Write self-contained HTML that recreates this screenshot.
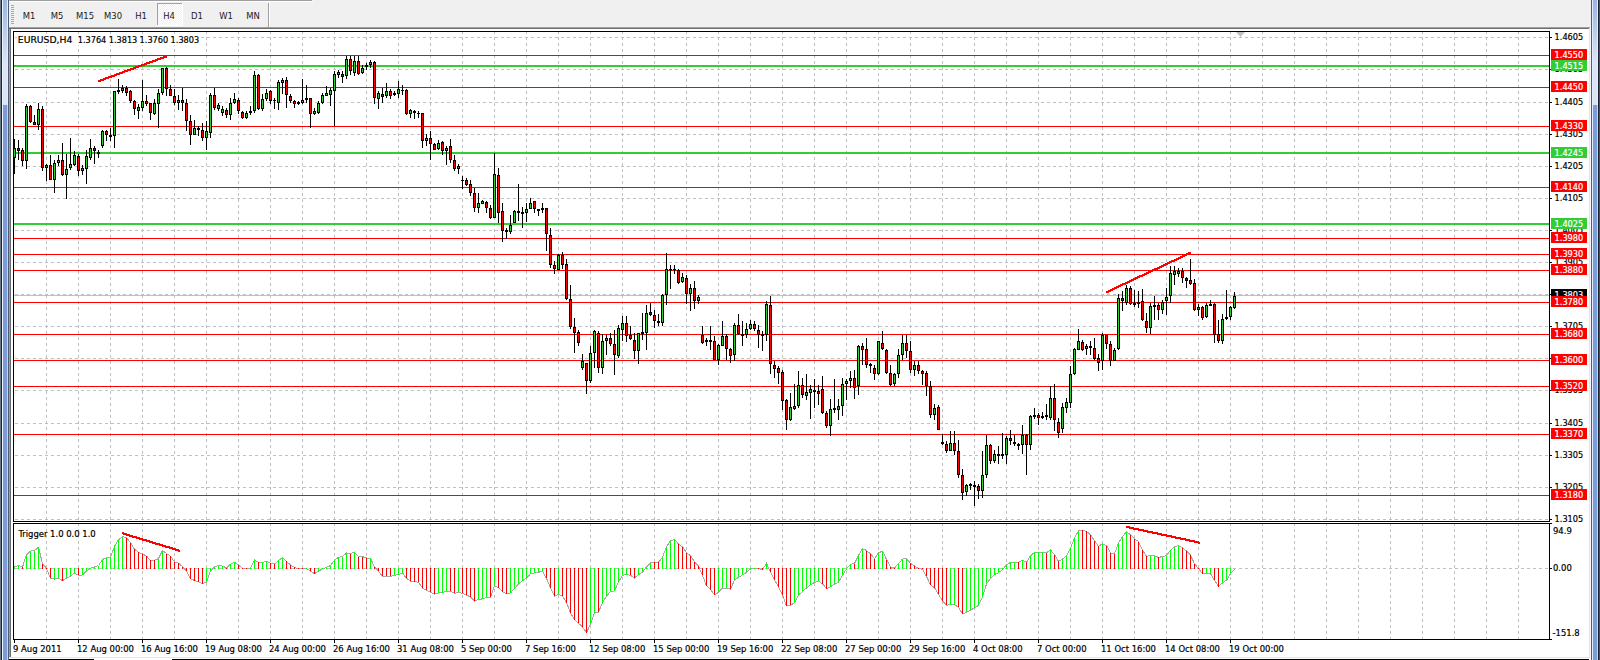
<!DOCTYPE html>
<html><head><meta charset="utf-8"><title>EURUSD,H4</title>
<style>
html,body{margin:0;padding:0;background:#fff;width:1600px;height:660px;overflow:hidden}
svg{display:block}
text{font-family:'DejaVu Sans Condensed', 'DejaVu Sans', sans-serif;white-space:pre}
</style></head><body>
<svg width="1600" height="660" viewBox="0 0 1600 660" shape-rendering="crispEdges">
<defs>
<linearGradient id="gradTop" x1="0" y1="0" x2="0" y2="1"><stop offset="0" stop-color="#9cb4e0"/><stop offset="0.6" stop-color="#dce4f4"/><stop offset="1" stop-color="#dce4f4"/></linearGradient>
<pattern id="dith" width="2" height="2" patternUnits="userSpaceOnUse"><rect width="2" height="2" fill="#f0f0f0"/><rect width="1" height="1" fill="#ffffff"/><rect x="1" y="1" width="1" height="1" fill="#ffffff"/></pattern>
</defs>
<rect x="0" y="0" width="1600" height="660" fill="#ffffff"/>
<rect x="0" y="0" width="1" height="660" fill="#6a7886"/>
<rect x="1" y="0" width="1" height="660" fill="#1c2434"/>
<rect x="2" y="0" width="1" height="660" fill="#eef4ff"/>
<rect x="3" y="0" width="4" height="105" fill="url(#gradTop)"/>
<rect x="3" y="105" width="4" height="555" fill="#7c9cd8"/>
<rect x="7" y="0" width="1" height="105" fill="#e6eefc"/>
<rect x="7" y="105" width="1" height="555" fill="#c4d6f4"/>
<rect x="8" y="0" width="1" height="660" fill="#4c5c7c"/>
<rect x="1589" y="27" width="1" height="631" fill="#e4e4e4"/>
<rect x="1590" y="27" width="1" height="633" fill="#f8f8f8"/>
<rect x="1591" y="0" width="1" height="660" fill="#4c5c7c"/>
<rect x="1592" y="0" width="1" height="660" fill="#e0ecff"/>
<rect x="1593" y="0" width="4" height="105" fill="url(#gradTop)"/>
<rect x="1593" y="105" width="4" height="555" fill="#7c9cd8"/>
<rect x="1597" y="0" width="1" height="105" fill="#e6eefc"/>
<rect x="1597" y="105" width="1" height="555" fill="#c4d6f4"/>
<rect x="1598" y="0" width="1" height="660" fill="#1c2434"/>
<rect x="1599" y="0" width="1" height="660" fill="#505050"/>
<rect x="9" y="0" width="1582" height="27" fill="#f0f0f0"/>
<rect x="9" y="0" width="303" height="1" fill="#a0a0a0"/>
<rect x="9" y="1" width="304" height="1" fill="#ffffff"/>
<rect x="9" y="27" width="1581" height="1" fill="#a0a0a0"/>
<rect x="9" y="28" width="1580" height="1" fill="#6e6e6e"/>
<rect x="11" y="5" width="3" height="1" fill="#a8a8a8"/>
<rect x="11" y="7" width="3" height="1" fill="#a8a8a8"/>
<rect x="11" y="9" width="3" height="1" fill="#a8a8a8"/>
<rect x="11" y="11" width="3" height="1" fill="#a8a8a8"/>
<rect x="11" y="13" width="3" height="1" fill="#a8a8a8"/>
<rect x="11" y="15" width="3" height="1" fill="#a8a8a8"/>
<rect x="11" y="17" width="3" height="1" fill="#a8a8a8"/>
<rect x="11" y="19" width="3" height="1" fill="#a8a8a8"/>
<rect x="11" y="21" width="3" height="1" fill="#a8a8a8"/>
<rect x="11" y="23" width="3" height="1" fill="#a8a8a8"/>
<rect x="268" y="3" width="1" height="24" fill="#a0a0a0"/>
<rect x="269" y="3" width="1" height="24" fill="#ffffff"/>
<rect x="157" y="3" width="25" height="22" fill="url(#dith)"/>
<rect x="157" y="3" width="25" height="1" fill="#a0a0a0"/>
<rect x="157" y="3" width="1" height="22" fill="#a0a0a0"/>
<rect x="182" y="3" width="1" height="23" fill="#ffffff"/>
<rect x="157" y="25" width="26" height="1" fill="#ffffff"/>
<text x="29" y="19" font-size="9.4" fill="#1a1a1a" stroke="#1a1a1a" stroke-width="0" text-anchor="middle">M1</text>
<text x="57" y="19" font-size="9.4" fill="#1a1a1a" stroke="#1a1a1a" stroke-width="0" text-anchor="middle">M5</text>
<text x="85" y="19" font-size="9.4" fill="#1a1a1a" stroke="#1a1a1a" stroke-width="0" text-anchor="middle">M15</text>
<text x="113" y="19" font-size="9.4" fill="#1a1a1a" stroke="#1a1a1a" stroke-width="0" text-anchor="middle">M30</text>
<text x="141" y="19" font-size="9.4" fill="#1a1a1a" stroke="#1a1a1a" stroke-width="0" text-anchor="middle">H1</text>
<text x="169" y="19" font-size="9.4" fill="#1a1a1a" stroke="#1a1a1a" stroke-width="0" text-anchor="middle">H4</text>
<text x="197" y="19" font-size="9.4" fill="#1a1a1a" stroke="#1a1a1a" stroke-width="0" text-anchor="middle">D1</text>
<text x="226" y="19" font-size="9.4" fill="#1a1a1a" stroke="#1a1a1a" stroke-width="0" text-anchor="middle">W1</text>
<text x="253" y="19" font-size="9.4" fill="#1a1a1a" stroke="#1a1a1a" stroke-width="0" text-anchor="middle">MN</text>
<rect x="9" y="29" width="1" height="628" fill="#9c9c9c"/>
<rect x="10" y="29" width="1" height="628" fill="#6c6c6c"/>
<rect x="9" y="657" width="1580" height="1" fill="#e4e4e4"/>
<rect x="9" y="659" width="85" height="1" fill="#000000"/>
<rect x="172" y="659" width="1417" height="1" fill="#000000"/>
<line x1="15" y1="37.5" x2="1549" y2="37.5" stroke="#c0c0c0" stroke-width="1" stroke-dasharray="3 3"/>
<line x1="15" y1="69.5" x2="1549" y2="69.5" stroke="#c0c0c0" stroke-width="1" stroke-dasharray="3 3"/>
<line x1="15" y1="102.5" x2="1549" y2="102.5" stroke="#c0c0c0" stroke-width="1" stroke-dasharray="3 3"/>
<line x1="15" y1="134.5" x2="1549" y2="134.5" stroke="#c0c0c0" stroke-width="1" stroke-dasharray="3 3"/>
<line x1="15" y1="166.5" x2="1549" y2="166.5" stroke="#c0c0c0" stroke-width="1" stroke-dasharray="3 3"/>
<line x1="15" y1="198.5" x2="1549" y2="198.5" stroke="#c0c0c0" stroke-width="1" stroke-dasharray="3 3"/>
<line x1="15" y1="230.5" x2="1549" y2="230.5" stroke="#c0c0c0" stroke-width="1" stroke-dasharray="3 3"/>
<line x1="15" y1="262.5" x2="1549" y2="262.5" stroke="#c0c0c0" stroke-width="1" stroke-dasharray="3 3"/>
<line x1="15" y1="294.5" x2="1549" y2="294.5" stroke="#c0c0c0" stroke-width="1" stroke-dasharray="3 3"/>
<line x1="15" y1="326.5" x2="1549" y2="326.5" stroke="#c0c0c0" stroke-width="1" stroke-dasharray="3 3"/>
<line x1="15" y1="358.5" x2="1549" y2="358.5" stroke="#c0c0c0" stroke-width="1" stroke-dasharray="3 3"/>
<line x1="15" y1="390.5" x2="1549" y2="390.5" stroke="#c0c0c0" stroke-width="1" stroke-dasharray="3 3"/>
<line x1="15" y1="423.5" x2="1549" y2="423.5" stroke="#c0c0c0" stroke-width="1" stroke-dasharray="3 3"/>
<line x1="15" y1="455.5" x2="1549" y2="455.5" stroke="#c0c0c0" stroke-width="1" stroke-dasharray="3 3"/>
<line x1="15" y1="487.5" x2="1549" y2="487.5" stroke="#c0c0c0" stroke-width="1" stroke-dasharray="3 3"/>
<line x1="15" y1="519.5" x2="1549" y2="519.5" stroke="#c0c0c0" stroke-width="1" stroke-dasharray="3 3"/>
<line x1="46.5" y1="31" x2="46.5" y2="521" stroke="#c0c0c0" stroke-width="1" stroke-dasharray="3 3"/>
<line x1="46.5" y1="523" x2="46.5" y2="639" stroke="#c0c0c0" stroke-width="1" stroke-dasharray="3 3"/>
<line x1="78.5" y1="31" x2="78.5" y2="521" stroke="#c0c0c0" stroke-width="1" stroke-dasharray="3 3"/>
<line x1="78.5" y1="523" x2="78.5" y2="639" stroke="#c0c0c0" stroke-width="1" stroke-dasharray="3 3"/>
<line x1="110.5" y1="31" x2="110.5" y2="521" stroke="#c0c0c0" stroke-width="1" stroke-dasharray="3 3"/>
<line x1="110.5" y1="523" x2="110.5" y2="639" stroke="#c0c0c0" stroke-width="1" stroke-dasharray="3 3"/>
<line x1="142.5" y1="31" x2="142.5" y2="521" stroke="#c0c0c0" stroke-width="1" stroke-dasharray="3 3"/>
<line x1="142.5" y1="523" x2="142.5" y2="639" stroke="#c0c0c0" stroke-width="1" stroke-dasharray="3 3"/>
<line x1="174.5" y1="31" x2="174.5" y2="521" stroke="#c0c0c0" stroke-width="1" stroke-dasharray="3 3"/>
<line x1="174.5" y1="523" x2="174.5" y2="639" stroke="#c0c0c0" stroke-width="1" stroke-dasharray="3 3"/>
<line x1="206.5" y1="31" x2="206.5" y2="521" stroke="#c0c0c0" stroke-width="1" stroke-dasharray="3 3"/>
<line x1="206.5" y1="523" x2="206.5" y2="639" stroke="#c0c0c0" stroke-width="1" stroke-dasharray="3 3"/>
<line x1="238.5" y1="31" x2="238.5" y2="521" stroke="#c0c0c0" stroke-width="1" stroke-dasharray="3 3"/>
<line x1="238.5" y1="523" x2="238.5" y2="639" stroke="#c0c0c0" stroke-width="1" stroke-dasharray="3 3"/>
<line x1="270.5" y1="31" x2="270.5" y2="521" stroke="#c0c0c0" stroke-width="1" stroke-dasharray="3 3"/>
<line x1="270.5" y1="523" x2="270.5" y2="639" stroke="#c0c0c0" stroke-width="1" stroke-dasharray="3 3"/>
<line x1="302.5" y1="31" x2="302.5" y2="521" stroke="#c0c0c0" stroke-width="1" stroke-dasharray="3 3"/>
<line x1="302.5" y1="523" x2="302.5" y2="639" stroke="#c0c0c0" stroke-width="1" stroke-dasharray="3 3"/>
<line x1="334.5" y1="31" x2="334.5" y2="521" stroke="#c0c0c0" stroke-width="1" stroke-dasharray="3 3"/>
<line x1="334.5" y1="523" x2="334.5" y2="639" stroke="#c0c0c0" stroke-width="1" stroke-dasharray="3 3"/>
<line x1="366.5" y1="31" x2="366.5" y2="521" stroke="#c0c0c0" stroke-width="1" stroke-dasharray="3 3"/>
<line x1="366.5" y1="523" x2="366.5" y2="639" stroke="#c0c0c0" stroke-width="1" stroke-dasharray="3 3"/>
<line x1="398.5" y1="31" x2="398.5" y2="521" stroke="#c0c0c0" stroke-width="1" stroke-dasharray="3 3"/>
<line x1="398.5" y1="523" x2="398.5" y2="639" stroke="#c0c0c0" stroke-width="1" stroke-dasharray="3 3"/>
<line x1="430.5" y1="31" x2="430.5" y2="521" stroke="#c0c0c0" stroke-width="1" stroke-dasharray="3 3"/>
<line x1="430.5" y1="523" x2="430.5" y2="639" stroke="#c0c0c0" stroke-width="1" stroke-dasharray="3 3"/>
<line x1="462.5" y1="31" x2="462.5" y2="521" stroke="#c0c0c0" stroke-width="1" stroke-dasharray="3 3"/>
<line x1="462.5" y1="523" x2="462.5" y2="639" stroke="#c0c0c0" stroke-width="1" stroke-dasharray="3 3"/>
<line x1="494.5" y1="31" x2="494.5" y2="521" stroke="#c0c0c0" stroke-width="1" stroke-dasharray="3 3"/>
<line x1="494.5" y1="523" x2="494.5" y2="639" stroke="#c0c0c0" stroke-width="1" stroke-dasharray="3 3"/>
<line x1="526.5" y1="31" x2="526.5" y2="521" stroke="#c0c0c0" stroke-width="1" stroke-dasharray="3 3"/>
<line x1="526.5" y1="523" x2="526.5" y2="639" stroke="#c0c0c0" stroke-width="1" stroke-dasharray="3 3"/>
<line x1="558.5" y1="31" x2="558.5" y2="521" stroke="#c0c0c0" stroke-width="1" stroke-dasharray="3 3"/>
<line x1="558.5" y1="523" x2="558.5" y2="639" stroke="#c0c0c0" stroke-width="1" stroke-dasharray="3 3"/>
<line x1="590.5" y1="31" x2="590.5" y2="521" stroke="#c0c0c0" stroke-width="1" stroke-dasharray="3 3"/>
<line x1="590.5" y1="523" x2="590.5" y2="639" stroke="#c0c0c0" stroke-width="1" stroke-dasharray="3 3"/>
<line x1="622.5" y1="31" x2="622.5" y2="521" stroke="#c0c0c0" stroke-width="1" stroke-dasharray="3 3"/>
<line x1="622.5" y1="523" x2="622.5" y2="639" stroke="#c0c0c0" stroke-width="1" stroke-dasharray="3 3"/>
<line x1="654.5" y1="31" x2="654.5" y2="521" stroke="#c0c0c0" stroke-width="1" stroke-dasharray="3 3"/>
<line x1="654.5" y1="523" x2="654.5" y2="639" stroke="#c0c0c0" stroke-width="1" stroke-dasharray="3 3"/>
<line x1="686.5" y1="31" x2="686.5" y2="521" stroke="#c0c0c0" stroke-width="1" stroke-dasharray="3 3"/>
<line x1="686.5" y1="523" x2="686.5" y2="639" stroke="#c0c0c0" stroke-width="1" stroke-dasharray="3 3"/>
<line x1="718.5" y1="31" x2="718.5" y2="521" stroke="#c0c0c0" stroke-width="1" stroke-dasharray="3 3"/>
<line x1="718.5" y1="523" x2="718.5" y2="639" stroke="#c0c0c0" stroke-width="1" stroke-dasharray="3 3"/>
<line x1="750.5" y1="31" x2="750.5" y2="521" stroke="#c0c0c0" stroke-width="1" stroke-dasharray="3 3"/>
<line x1="750.5" y1="523" x2="750.5" y2="639" stroke="#c0c0c0" stroke-width="1" stroke-dasharray="3 3"/>
<line x1="782.5" y1="31" x2="782.5" y2="521" stroke="#c0c0c0" stroke-width="1" stroke-dasharray="3 3"/>
<line x1="782.5" y1="523" x2="782.5" y2="639" stroke="#c0c0c0" stroke-width="1" stroke-dasharray="3 3"/>
<line x1="814.5" y1="31" x2="814.5" y2="521" stroke="#c0c0c0" stroke-width="1" stroke-dasharray="3 3"/>
<line x1="814.5" y1="523" x2="814.5" y2="639" stroke="#c0c0c0" stroke-width="1" stroke-dasharray="3 3"/>
<line x1="846.5" y1="31" x2="846.5" y2="521" stroke="#c0c0c0" stroke-width="1" stroke-dasharray="3 3"/>
<line x1="846.5" y1="523" x2="846.5" y2="639" stroke="#c0c0c0" stroke-width="1" stroke-dasharray="3 3"/>
<line x1="878.5" y1="31" x2="878.5" y2="521" stroke="#c0c0c0" stroke-width="1" stroke-dasharray="3 3"/>
<line x1="878.5" y1="523" x2="878.5" y2="639" stroke="#c0c0c0" stroke-width="1" stroke-dasharray="3 3"/>
<line x1="910.5" y1="31" x2="910.5" y2="521" stroke="#c0c0c0" stroke-width="1" stroke-dasharray="3 3"/>
<line x1="910.5" y1="523" x2="910.5" y2="639" stroke="#c0c0c0" stroke-width="1" stroke-dasharray="3 3"/>
<line x1="942.5" y1="31" x2="942.5" y2="521" stroke="#c0c0c0" stroke-width="1" stroke-dasharray="3 3"/>
<line x1="942.5" y1="523" x2="942.5" y2="639" stroke="#c0c0c0" stroke-width="1" stroke-dasharray="3 3"/>
<line x1="974.5" y1="31" x2="974.5" y2="521" stroke="#c0c0c0" stroke-width="1" stroke-dasharray="3 3"/>
<line x1="974.5" y1="523" x2="974.5" y2="639" stroke="#c0c0c0" stroke-width="1" stroke-dasharray="3 3"/>
<line x1="1006.5" y1="31" x2="1006.5" y2="521" stroke="#c0c0c0" stroke-width="1" stroke-dasharray="3 3"/>
<line x1="1006.5" y1="523" x2="1006.5" y2="639" stroke="#c0c0c0" stroke-width="1" stroke-dasharray="3 3"/>
<line x1="1038.5" y1="31" x2="1038.5" y2="521" stroke="#c0c0c0" stroke-width="1" stroke-dasharray="3 3"/>
<line x1="1038.5" y1="523" x2="1038.5" y2="639" stroke="#c0c0c0" stroke-width="1" stroke-dasharray="3 3"/>
<line x1="1070.5" y1="31" x2="1070.5" y2="521" stroke="#c0c0c0" stroke-width="1" stroke-dasharray="3 3"/>
<line x1="1070.5" y1="523" x2="1070.5" y2="639" stroke="#c0c0c0" stroke-width="1" stroke-dasharray="3 3"/>
<line x1="1102.5" y1="31" x2="1102.5" y2="521" stroke="#c0c0c0" stroke-width="1" stroke-dasharray="3 3"/>
<line x1="1102.5" y1="523" x2="1102.5" y2="639" stroke="#c0c0c0" stroke-width="1" stroke-dasharray="3 3"/>
<line x1="1134.5" y1="31" x2="1134.5" y2="521" stroke="#c0c0c0" stroke-width="1" stroke-dasharray="3 3"/>
<line x1="1134.5" y1="523" x2="1134.5" y2="639" stroke="#c0c0c0" stroke-width="1" stroke-dasharray="3 3"/>
<line x1="1166.5" y1="31" x2="1166.5" y2="521" stroke="#c0c0c0" stroke-width="1" stroke-dasharray="3 3"/>
<line x1="1166.5" y1="523" x2="1166.5" y2="639" stroke="#c0c0c0" stroke-width="1" stroke-dasharray="3 3"/>
<line x1="1198.5" y1="31" x2="1198.5" y2="521" stroke="#c0c0c0" stroke-width="1" stroke-dasharray="3 3"/>
<line x1="1198.5" y1="523" x2="1198.5" y2="639" stroke="#c0c0c0" stroke-width="1" stroke-dasharray="3 3"/>
<line x1="1230.5" y1="31" x2="1230.5" y2="521" stroke="#c0c0c0" stroke-width="1" stroke-dasharray="3 3"/>
<line x1="1230.5" y1="523" x2="1230.5" y2="639" stroke="#c0c0c0" stroke-width="1" stroke-dasharray="3 3"/>
<line x1="1262.5" y1="31" x2="1262.5" y2="521" stroke="#c0c0c0" stroke-width="1" stroke-dasharray="3 3"/>
<line x1="1262.5" y1="523" x2="1262.5" y2="639" stroke="#c0c0c0" stroke-width="1" stroke-dasharray="3 3"/>
<line x1="1294.5" y1="31" x2="1294.5" y2="521" stroke="#c0c0c0" stroke-width="1" stroke-dasharray="3 3"/>
<line x1="1294.5" y1="523" x2="1294.5" y2="639" stroke="#c0c0c0" stroke-width="1" stroke-dasharray="3 3"/>
<line x1="1326.5" y1="31" x2="1326.5" y2="521" stroke="#c0c0c0" stroke-width="1" stroke-dasharray="3 3"/>
<line x1="1326.5" y1="523" x2="1326.5" y2="639" stroke="#c0c0c0" stroke-width="1" stroke-dasharray="3 3"/>
<line x1="1358.5" y1="31" x2="1358.5" y2="521" stroke="#c0c0c0" stroke-width="1" stroke-dasharray="3 3"/>
<line x1="1358.5" y1="523" x2="1358.5" y2="639" stroke="#c0c0c0" stroke-width="1" stroke-dasharray="3 3"/>
<line x1="1390.5" y1="31" x2="1390.5" y2="521" stroke="#c0c0c0" stroke-width="1" stroke-dasharray="3 3"/>
<line x1="1390.5" y1="523" x2="1390.5" y2="639" stroke="#c0c0c0" stroke-width="1" stroke-dasharray="3 3"/>
<line x1="1422.5" y1="31" x2="1422.5" y2="521" stroke="#c0c0c0" stroke-width="1" stroke-dasharray="3 3"/>
<line x1="1422.5" y1="523" x2="1422.5" y2="639" stroke="#c0c0c0" stroke-width="1" stroke-dasharray="3 3"/>
<line x1="1454.5" y1="31" x2="1454.5" y2="521" stroke="#c0c0c0" stroke-width="1" stroke-dasharray="3 3"/>
<line x1="1454.5" y1="523" x2="1454.5" y2="639" stroke="#c0c0c0" stroke-width="1" stroke-dasharray="3 3"/>
<line x1="1486.5" y1="31" x2="1486.5" y2="521" stroke="#c0c0c0" stroke-width="1" stroke-dasharray="3 3"/>
<line x1="1486.5" y1="523" x2="1486.5" y2="639" stroke="#c0c0c0" stroke-width="1" stroke-dasharray="3 3"/>
<line x1="1518.5" y1="31" x2="1518.5" y2="521" stroke="#c0c0c0" stroke-width="1" stroke-dasharray="3 3"/>
<line x1="1518.5" y1="523" x2="1518.5" y2="639" stroke="#c0c0c0" stroke-width="1" stroke-dasharray="3 3"/>
<rect x="14" y="295" width="1535" height="1" fill="#c0c0c0"/>
<rect x="14" y="55" width="1535" height="1" fill="#ff0000"/>
<rect x="14" y="65" width="1535" height="2" fill="#32cd32"/>
<rect x="14" y="87" width="1535" height="1" fill="#ff0000"/>
<rect x="14" y="126" width="1535" height="1" fill="#ff0000"/>
<rect x="14" y="152" width="1535" height="2" fill="#32cd32"/>
<rect x="14" y="187" width="1535" height="1" fill="#ff0000"/>
<rect x="14" y="223" width="1535" height="2" fill="#32cd32"/>
<rect x="14" y="238" width="1535" height="1" fill="#ff0000"/>
<rect x="14" y="254" width="1535" height="1" fill="#ff0000"/>
<rect x="14" y="270" width="1535" height="1" fill="#ff0000"/>
<rect x="14" y="302" width="1535" height="1" fill="#ff0000"/>
<rect x="14" y="334" width="1535" height="1" fill="#ff0000"/>
<rect x="14" y="360" width="1535" height="1" fill="#ff0000"/>
<rect x="14" y="386" width="1535" height="1" fill="#ff0000"/>
<rect x="14" y="434" width="1535" height="1" fill="#ff0000"/>
<rect x="14" y="495" width="1535" height="1" fill="#ff0000"/>
<rect x="14" y="139" width="1" height="35" fill="#000"/>
<rect x="13" y="148" width="3" height="10" fill="#000"/>
<rect x="14" y="149" width="1" height="8" fill="#32cd32"/>
<rect x="18" y="140" width="1" height="20" fill="#000"/>
<rect x="17" y="148" width="3" height="3" fill="#000"/>
<rect x="18" y="149" width="1" height="1" fill="#ff0000"/>
<rect x="22" y="148" width="1" height="18" fill="#000"/>
<rect x="21" y="150" width="3" height="11" fill="#000"/>
<rect x="22" y="151" width="1" height="9" fill="#ff0000"/>
<rect x="26" y="104" width="1" height="65" fill="#000"/>
<rect x="25" y="106" width="3" height="55" fill="#000"/>
<rect x="26" y="107" width="1" height="53" fill="#32cd32"/>
<rect x="30" y="105" width="1" height="18" fill="#000"/>
<rect x="29" y="106" width="3" height="16" fill="#000"/>
<rect x="30" y="107" width="1" height="14" fill="#ff0000"/>
<rect x="34" y="115" width="1" height="10" fill="#000"/>
<rect x="33" y="122" width="3" height="3" fill="#000"/>
<rect x="34" y="123" width="1" height="1" fill="#ff0000"/>
<rect x="38" y="103" width="1" height="27" fill="#000"/>
<rect x="37" y="109" width="3" height="16" fill="#000"/>
<rect x="38" y="110" width="1" height="14" fill="#32cd32"/>
<rect x="42" y="106" width="1" height="65" fill="#000"/>
<rect x="41" y="109" width="3" height="59" fill="#000"/>
<rect x="42" y="110" width="1" height="57" fill="#ff0000"/>
<rect x="46" y="164" width="1" height="17" fill="#000"/>
<rect x="45" y="165" width="3" height="3" fill="#000"/>
<rect x="46" y="166" width="1" height="1" fill="#32cd32"/>
<rect x="50" y="155" width="1" height="25" fill="#000"/>
<rect x="49" y="165" width="3" height="15" fill="#000"/>
<rect x="50" y="166" width="1" height="13" fill="#ff0000"/>
<rect x="54" y="160" width="1" height="33" fill="#000"/>
<rect x="53" y="163" width="3" height="17" fill="#000"/>
<rect x="54" y="164" width="1" height="15" fill="#32cd32"/>
<rect x="58" y="155" width="1" height="11" fill="#000"/>
<rect x="57" y="160" width="3" height="3" fill="#000"/>
<rect x="58" y="161" width="1" height="1" fill="#32cd32"/>
<rect x="62" y="143" width="1" height="33" fill="#000"/>
<rect x="61" y="160" width="3" height="15" fill="#000"/>
<rect x="62" y="161" width="1" height="13" fill="#ff0000"/>
<rect x="66" y="154" width="1" height="45" fill="#000"/>
<rect x="65" y="169" width="3" height="6" fill="#000"/>
<rect x="66" y="170" width="1" height="4" fill="#32cd32"/>
<rect x="70" y="138" width="1" height="32" fill="#000"/>
<rect x="69" y="164" width="3" height="4" fill="#000"/>
<rect x="70" y="165" width="1" height="2" fill="#32cd32"/>
<rect x="74" y="151" width="1" height="15" fill="#000"/>
<rect x="73" y="155" width="3" height="10" fill="#000"/>
<rect x="74" y="156" width="1" height="8" fill="#32cd32"/>
<rect x="78" y="154" width="1" height="22" fill="#000"/>
<rect x="77" y="156" width="3" height="15" fill="#000"/>
<rect x="78" y="157" width="1" height="13" fill="#ff0000"/>
<rect x="82" y="165" width="1" height="10" fill="#000"/>
<rect x="81" y="168" width="3" height="3" fill="#000"/>
<rect x="82" y="169" width="1" height="1" fill="#32cd32"/>
<rect x="86" y="150" width="1" height="34" fill="#000"/>
<rect x="85" y="156" width="3" height="13" fill="#000"/>
<rect x="86" y="157" width="1" height="11" fill="#32cd32"/>
<rect x="90" y="139" width="1" height="21" fill="#000"/>
<rect x="89" y="148" width="3" height="10" fill="#000"/>
<rect x="90" y="149" width="1" height="8" fill="#32cd32"/>
<rect x="94" y="146" width="1" height="18" fill="#000"/>
<rect x="93" y="148" width="3" height="3" fill="#000"/>
<rect x="94" y="149" width="1" height="1" fill="#ff0000"/>
<rect x="98" y="150" width="1" height="8" fill="#000"/>
<rect x="97" y="152" width="3" height="2" fill="#000"/>
<rect x="102" y="130" width="1" height="18" fill="#000"/>
<rect x="101" y="131" width="3" height="15" fill="#000"/>
<rect x="102" y="132" width="1" height="13" fill="#32cd32"/>
<rect x="106" y="130" width="1" height="11" fill="#000"/>
<rect x="105" y="131" width="3" height="4" fill="#000"/>
<rect x="106" y="132" width="1" height="2" fill="#ff0000"/>
<rect x="110" y="128" width="1" height="13" fill="#000"/>
<rect x="109" y="135" width="3" height="2" fill="#000"/>
<rect x="114" y="91" width="1" height="57" fill="#000"/>
<rect x="113" y="91" width="3" height="45" fill="#000"/>
<rect x="114" y="92" width="1" height="43" fill="#32cd32"/>
<rect x="118" y="79" width="1" height="15" fill="#000"/>
<rect x="117" y="90" width="3" height="2" fill="#000"/>
<rect x="122" y="85" width="1" height="8" fill="#000"/>
<rect x="121" y="88" width="3" height="3" fill="#000"/>
<rect x="122" y="89" width="1" height="1" fill="#32cd32"/>
<rect x="126" y="86" width="1" height="10" fill="#000"/>
<rect x="125" y="88" width="3" height="5" fill="#000"/>
<rect x="126" y="89" width="1" height="3" fill="#ff0000"/>
<rect x="130" y="90" width="1" height="13" fill="#000"/>
<rect x="129" y="91" width="3" height="10" fill="#000"/>
<rect x="130" y="92" width="1" height="8" fill="#ff0000"/>
<rect x="134" y="100" width="1" height="15" fill="#000"/>
<rect x="133" y="101" width="3" height="8" fill="#000"/>
<rect x="134" y="102" width="1" height="6" fill="#ff0000"/>
<rect x="138" y="104" width="1" height="15" fill="#000"/>
<rect x="137" y="107" width="3" height="4" fill="#000"/>
<rect x="138" y="108" width="1" height="2" fill="#32cd32"/>
<rect x="142" y="80" width="1" height="31" fill="#000"/>
<rect x="141" y="101" width="3" height="7" fill="#000"/>
<rect x="142" y="102" width="1" height="5" fill="#32cd32"/>
<rect x="146" y="95" width="1" height="11" fill="#000"/>
<rect x="145" y="101" width="3" height="3" fill="#000"/>
<rect x="146" y="102" width="1" height="1" fill="#ff0000"/>
<rect x="150" y="103" width="1" height="17" fill="#000"/>
<rect x="149" y="103" width="3" height="10" fill="#000"/>
<rect x="150" y="104" width="1" height="8" fill="#ff0000"/>
<rect x="154" y="99" width="1" height="16" fill="#000"/>
<rect x="153" y="103" width="3" height="11" fill="#000"/>
<rect x="154" y="104" width="1" height="9" fill="#32cd32"/>
<rect x="158" y="89" width="1" height="39" fill="#000"/>
<rect x="157" y="93" width="3" height="11" fill="#000"/>
<rect x="158" y="94" width="1" height="9" fill="#32cd32"/>
<rect x="162" y="68" width="1" height="27" fill="#000"/>
<rect x="161" y="68" width="3" height="25" fill="#000"/>
<rect x="162" y="69" width="1" height="23" fill="#32cd32"/>
<rect x="166" y="67" width="1" height="29" fill="#000"/>
<rect x="165" y="68" width="3" height="21" fill="#000"/>
<rect x="166" y="69" width="1" height="19" fill="#ff0000"/>
<rect x="170" y="85" width="1" height="11" fill="#000"/>
<rect x="169" y="89" width="3" height="7" fill="#000"/>
<rect x="170" y="90" width="1" height="5" fill="#ff0000"/>
<rect x="174" y="89" width="1" height="16" fill="#000"/>
<rect x="173" y="96" width="3" height="7" fill="#000"/>
<rect x="174" y="97" width="1" height="5" fill="#ff0000"/>
<rect x="178" y="95" width="1" height="15" fill="#000"/>
<rect x="177" y="100" width="3" height="3" fill="#000"/>
<rect x="178" y="101" width="1" height="1" fill="#32cd32"/>
<rect x="182" y="88" width="1" height="23" fill="#000"/>
<rect x="181" y="100" width="3" height="3" fill="#000"/>
<rect x="182" y="101" width="1" height="1" fill="#ff0000"/>
<rect x="186" y="99" width="1" height="32" fill="#000"/>
<rect x="185" y="103" width="3" height="18" fill="#000"/>
<rect x="186" y="104" width="1" height="16" fill="#ff0000"/>
<rect x="190" y="115" width="1" height="30" fill="#000"/>
<rect x="189" y="121" width="3" height="14" fill="#000"/>
<rect x="190" y="122" width="1" height="12" fill="#ff0000"/>
<rect x="194" y="120" width="1" height="15" fill="#000"/>
<rect x="193" y="128" width="3" height="7" fill="#000"/>
<rect x="194" y="129" width="1" height="5" fill="#32cd32"/>
<rect x="198" y="126" width="1" height="10" fill="#000"/>
<rect x="197" y="128" width="3" height="2" fill="#000"/>
<rect x="202" y="123" width="1" height="18" fill="#000"/>
<rect x="201" y="130" width="3" height="8" fill="#000"/>
<rect x="202" y="131" width="1" height="6" fill="#ff0000"/>
<rect x="206" y="121" width="1" height="29" fill="#000"/>
<rect x="205" y="131" width="3" height="7" fill="#000"/>
<rect x="206" y="132" width="1" height="5" fill="#32cd32"/>
<rect x="210" y="93" width="1" height="45" fill="#000"/>
<rect x="209" y="95" width="3" height="38" fill="#000"/>
<rect x="210" y="96" width="1" height="36" fill="#32cd32"/>
<rect x="214" y="88" width="1" height="22" fill="#000"/>
<rect x="213" y="95" width="3" height="13" fill="#000"/>
<rect x="214" y="96" width="1" height="11" fill="#ff0000"/>
<rect x="218" y="103" width="1" height="8" fill="#000"/>
<rect x="217" y="105" width="3" height="4" fill="#000"/>
<rect x="218" y="106" width="1" height="2" fill="#32cd32"/>
<rect x="222" y="106" width="1" height="10" fill="#000"/>
<rect x="221" y="109" width="3" height="4" fill="#000"/>
<rect x="222" y="110" width="1" height="2" fill="#32cd32"/>
<rect x="226" y="108" width="1" height="10" fill="#000"/>
<rect x="225" y="110" width="3" height="5" fill="#000"/>
<rect x="226" y="111" width="1" height="3" fill="#ff0000"/>
<rect x="230" y="98" width="1" height="22" fill="#000"/>
<rect x="229" y="103" width="3" height="12" fill="#000"/>
<rect x="230" y="104" width="1" height="10" fill="#32cd32"/>
<rect x="234" y="93" width="1" height="11" fill="#000"/>
<rect x="233" y="99" width="3" height="4" fill="#000"/>
<rect x="234" y="100" width="1" height="2" fill="#32cd32"/>
<rect x="238" y="98" width="1" height="16" fill="#000"/>
<rect x="237" y="100" width="3" height="11" fill="#000"/>
<rect x="238" y="101" width="1" height="9" fill="#ff0000"/>
<rect x="242" y="111" width="1" height="8" fill="#000"/>
<rect x="241" y="112" width="3" height="6" fill="#000"/>
<rect x="242" y="113" width="1" height="4" fill="#ff0000"/>
<rect x="246" y="111" width="1" height="8" fill="#000"/>
<rect x="245" y="113" width="3" height="5" fill="#000"/>
<rect x="246" y="114" width="1" height="3" fill="#32cd32"/>
<rect x="250" y="106" width="1" height="9" fill="#000"/>
<rect x="249" y="111" width="3" height="2" fill="#000"/>
<rect x="254" y="71" width="1" height="42" fill="#000"/>
<rect x="253" y="75" width="3" height="36" fill="#000"/>
<rect x="254" y="76" width="1" height="34" fill="#32cd32"/>
<rect x="258" y="74" width="1" height="36" fill="#000"/>
<rect x="257" y="75" width="3" height="34" fill="#000"/>
<rect x="258" y="76" width="1" height="32" fill="#ff0000"/>
<rect x="262" y="94" width="1" height="17" fill="#000"/>
<rect x="261" y="99" width="3" height="10" fill="#000"/>
<rect x="262" y="100" width="1" height="8" fill="#32cd32"/>
<rect x="266" y="89" width="1" height="12" fill="#000"/>
<rect x="265" y="93" width="3" height="6" fill="#000"/>
<rect x="266" y="94" width="1" height="4" fill="#32cd32"/>
<rect x="270" y="90" width="1" height="14" fill="#000"/>
<rect x="269" y="91" width="3" height="10" fill="#000"/>
<rect x="270" y="92" width="1" height="8" fill="#ff0000"/>
<rect x="274" y="98" width="1" height="11" fill="#000"/>
<rect x="273" y="100" width="3" height="1" fill="#000"/>
<rect x="278" y="80" width="1" height="30" fill="#000"/>
<rect x="277" y="82" width="3" height="21" fill="#000"/>
<rect x="278" y="83" width="1" height="19" fill="#32cd32"/>
<rect x="282" y="78" width="1" height="16" fill="#000"/>
<rect x="281" y="80" width="3" height="3" fill="#000"/>
<rect x="282" y="81" width="1" height="1" fill="#32cd32"/>
<rect x="286" y="77" width="1" height="31" fill="#000"/>
<rect x="285" y="80" width="3" height="15" fill="#000"/>
<rect x="286" y="81" width="1" height="13" fill="#ff0000"/>
<rect x="290" y="94" width="1" height="9" fill="#000"/>
<rect x="289" y="96" width="3" height="5" fill="#000"/>
<rect x="290" y="97" width="1" height="3" fill="#ff0000"/>
<rect x="294" y="100" width="1" height="8" fill="#000"/>
<rect x="293" y="101" width="3" height="3" fill="#000"/>
<rect x="294" y="102" width="1" height="1" fill="#ff0000"/>
<rect x="298" y="101" width="1" height="4" fill="#000"/>
<rect x="297" y="102" width="3" height="2" fill="#000"/>
<rect x="302" y="79" width="1" height="25" fill="#000"/>
<rect x="301" y="100" width="3" height="3" fill="#000"/>
<rect x="302" y="101" width="1" height="1" fill="#32cd32"/>
<rect x="306" y="85" width="1" height="18" fill="#000"/>
<rect x="305" y="98" width="3" height="2" fill="#000"/>
<rect x="310" y="98" width="1" height="30" fill="#000"/>
<rect x="309" y="98" width="3" height="16" fill="#000"/>
<rect x="310" y="99" width="1" height="14" fill="#ff0000"/>
<rect x="314" y="108" width="1" height="7" fill="#000"/>
<rect x="313" y="111" width="3" height="3" fill="#000"/>
<rect x="314" y="112" width="1" height="1" fill="#32cd32"/>
<rect x="318" y="101" width="1" height="13" fill="#000"/>
<rect x="317" y="103" width="3" height="10" fill="#000"/>
<rect x="318" y="104" width="1" height="8" fill="#32cd32"/>
<rect x="322" y="93" width="1" height="11" fill="#000"/>
<rect x="321" y="95" width="3" height="8" fill="#000"/>
<rect x="322" y="96" width="1" height="6" fill="#32cd32"/>
<rect x="326" y="86" width="1" height="10" fill="#000"/>
<rect x="325" y="93" width="3" height="3" fill="#000"/>
<rect x="326" y="94" width="1" height="1" fill="#32cd32"/>
<rect x="330" y="88" width="1" height="18" fill="#000"/>
<rect x="329" y="90" width="3" height="5" fill="#000"/>
<rect x="330" y="91" width="1" height="3" fill="#32cd32"/>
<rect x="334" y="71" width="1" height="55" fill="#000"/>
<rect x="333" y="74" width="3" height="17" fill="#000"/>
<rect x="334" y="75" width="1" height="15" fill="#32cd32"/>
<rect x="338" y="70" width="1" height="8" fill="#000"/>
<rect x="337" y="72" width="3" height="3" fill="#000"/>
<rect x="338" y="73" width="1" height="1" fill="#32cd32"/>
<rect x="342" y="71" width="1" height="12" fill="#000"/>
<rect x="341" y="74" width="3" height="3" fill="#000"/>
<rect x="342" y="75" width="1" height="1" fill="#ff0000"/>
<rect x="346" y="56" width="1" height="23" fill="#000"/>
<rect x="345" y="59" width="3" height="17" fill="#000"/>
<rect x="346" y="60" width="1" height="15" fill="#32cd32"/>
<rect x="350" y="56" width="1" height="19" fill="#000"/>
<rect x="349" y="59" width="3" height="12" fill="#000"/>
<rect x="350" y="60" width="1" height="10" fill="#ff0000"/>
<rect x="354" y="56" width="1" height="20" fill="#000"/>
<rect x="353" y="61" width="3" height="12" fill="#000"/>
<rect x="354" y="62" width="1" height="10" fill="#32cd32"/>
<rect x="358" y="56" width="1" height="19" fill="#000"/>
<rect x="357" y="61" width="3" height="13" fill="#000"/>
<rect x="358" y="62" width="1" height="11" fill="#ff0000"/>
<rect x="362" y="65" width="1" height="9" fill="#000"/>
<rect x="361" y="68" width="3" height="5" fill="#000"/>
<rect x="362" y="69" width="1" height="3" fill="#32cd32"/>
<rect x="366" y="63" width="1" height="7" fill="#000"/>
<rect x="365" y="65" width="3" height="2" fill="#000"/>
<rect x="370" y="60" width="1" height="8" fill="#000"/>
<rect x="369" y="62" width="3" height="3" fill="#000"/>
<rect x="370" y="63" width="1" height="1" fill="#32cd32"/>
<rect x="374" y="61" width="1" height="43" fill="#000"/>
<rect x="373" y="62" width="3" height="36" fill="#000"/>
<rect x="374" y="63" width="1" height="34" fill="#ff0000"/>
<rect x="378" y="91" width="1" height="18" fill="#000"/>
<rect x="377" y="93" width="3" height="6" fill="#000"/>
<rect x="378" y="94" width="1" height="4" fill="#32cd32"/>
<rect x="382" y="88" width="1" height="15" fill="#000"/>
<rect x="381" y="94" width="3" height="3" fill="#000"/>
<rect x="382" y="95" width="1" height="1" fill="#ff0000"/>
<rect x="386" y="83" width="1" height="15" fill="#000"/>
<rect x="385" y="91" width="3" height="5" fill="#000"/>
<rect x="386" y="92" width="1" height="3" fill="#32cd32"/>
<rect x="390" y="89" width="1" height="10" fill="#000"/>
<rect x="389" y="91" width="3" height="5" fill="#000"/>
<rect x="390" y="92" width="1" height="3" fill="#ff0000"/>
<rect x="394" y="91" width="1" height="5" fill="#000"/>
<rect x="393" y="93" width="3" height="2" fill="#000"/>
<rect x="398" y="81" width="1" height="17" fill="#000"/>
<rect x="397" y="89" width="3" height="5" fill="#000"/>
<rect x="398" y="90" width="1" height="3" fill="#32cd32"/>
<rect x="402" y="85" width="1" height="10" fill="#000"/>
<rect x="401" y="90" width="3" height="1" fill="#000"/>
<rect x="406" y="89" width="1" height="26" fill="#000"/>
<rect x="405" y="90" width="3" height="24" fill="#000"/>
<rect x="406" y="91" width="1" height="22" fill="#ff0000"/>
<rect x="410" y="109" width="1" height="9" fill="#000"/>
<rect x="409" y="110" width="3" height="4" fill="#000"/>
<rect x="410" y="111" width="1" height="2" fill="#32cd32"/>
<rect x="414" y="110" width="1" height="9" fill="#000"/>
<rect x="413" y="111" width="3" height="2" fill="#000"/>
<rect x="418" y="111" width="1" height="7" fill="#000"/>
<rect x="417" y="113" width="3" height="1" fill="#000"/>
<rect x="422" y="113" width="1" height="35" fill="#000"/>
<rect x="421" y="113" width="3" height="28" fill="#000"/>
<rect x="422" y="114" width="1" height="26" fill="#ff0000"/>
<rect x="426" y="134" width="1" height="12" fill="#000"/>
<rect x="425" y="138" width="3" height="3" fill="#000"/>
<rect x="426" y="139" width="1" height="1" fill="#32cd32"/>
<rect x="430" y="131" width="1" height="29" fill="#000"/>
<rect x="429" y="138" width="3" height="6" fill="#000"/>
<rect x="430" y="139" width="1" height="4" fill="#ff0000"/>
<rect x="434" y="143" width="1" height="7" fill="#000"/>
<rect x="433" y="144" width="3" height="6" fill="#000"/>
<rect x="434" y="145" width="1" height="4" fill="#ff0000"/>
<rect x="438" y="140" width="1" height="10" fill="#000"/>
<rect x="437" y="143" width="3" height="6" fill="#000"/>
<rect x="438" y="144" width="1" height="4" fill="#32cd32"/>
<rect x="442" y="141" width="1" height="14" fill="#000"/>
<rect x="441" y="142" width="3" height="9" fill="#000"/>
<rect x="442" y="143" width="1" height="7" fill="#ff0000"/>
<rect x="446" y="146" width="1" height="19" fill="#000"/>
<rect x="445" y="148" width="3" height="3" fill="#000"/>
<rect x="446" y="149" width="1" height="1" fill="#32cd32"/>
<rect x="450" y="139" width="1" height="24" fill="#000"/>
<rect x="449" y="146" width="3" height="14" fill="#000"/>
<rect x="450" y="147" width="1" height="12" fill="#ff0000"/>
<rect x="454" y="155" width="1" height="16" fill="#000"/>
<rect x="453" y="160" width="3" height="9" fill="#000"/>
<rect x="454" y="161" width="1" height="7" fill="#ff0000"/>
<rect x="458" y="164" width="1" height="10" fill="#000"/>
<rect x="457" y="166" width="3" height="3" fill="#000"/>
<rect x="458" y="167" width="1" height="1" fill="#32cd32"/>
<rect x="462" y="176" width="1" height="13" fill="#000"/>
<rect x="461" y="180" width="3" height="1" fill="#000"/>
<rect x="466" y="178" width="1" height="8" fill="#000"/>
<rect x="465" y="180" width="3" height="5" fill="#000"/>
<rect x="466" y="181" width="1" height="3" fill="#ff0000"/>
<rect x="470" y="180" width="1" height="16" fill="#000"/>
<rect x="469" y="184" width="3" height="9" fill="#000"/>
<rect x="470" y="185" width="1" height="7" fill="#ff0000"/>
<rect x="474" y="188" width="1" height="24" fill="#000"/>
<rect x="473" y="193" width="3" height="15" fill="#000"/>
<rect x="474" y="194" width="1" height="13" fill="#ff0000"/>
<rect x="478" y="193" width="1" height="20" fill="#000"/>
<rect x="477" y="203" width="3" height="5" fill="#000"/>
<rect x="478" y="204" width="1" height="3" fill="#32cd32"/>
<rect x="482" y="200" width="1" height="4" fill="#000"/>
<rect x="481" y="201" width="3" height="3" fill="#000"/>
<rect x="482" y="202" width="1" height="1" fill="#32cd32"/>
<rect x="486" y="201" width="1" height="12" fill="#000"/>
<rect x="485" y="202" width="3" height="6" fill="#000"/>
<rect x="486" y="203" width="1" height="4" fill="#ff0000"/>
<rect x="490" y="205" width="1" height="14" fill="#000"/>
<rect x="489" y="208" width="3" height="10" fill="#000"/>
<rect x="490" y="209" width="1" height="8" fill="#ff0000"/>
<rect x="494" y="153" width="1" height="65" fill="#000"/>
<rect x="493" y="174" width="3" height="44" fill="#000"/>
<rect x="494" y="175" width="1" height="42" fill="#32cd32"/>
<rect x="498" y="168" width="1" height="55" fill="#000"/>
<rect x="497" y="175" width="3" height="38" fill="#000"/>
<rect x="498" y="176" width="1" height="36" fill="#ff0000"/>
<rect x="502" y="203" width="1" height="39" fill="#000"/>
<rect x="501" y="211" width="3" height="20" fill="#000"/>
<rect x="502" y="212" width="1" height="18" fill="#ff0000"/>
<rect x="506" y="228" width="1" height="11" fill="#000"/>
<rect x="505" y="230" width="3" height="2" fill="#000"/>
<rect x="510" y="215" width="1" height="19" fill="#000"/>
<rect x="509" y="225" width="3" height="7" fill="#000"/>
<rect x="510" y="226" width="1" height="5" fill="#32cd32"/>
<rect x="514" y="210" width="1" height="13" fill="#000"/>
<rect x="513" y="211" width="3" height="12" fill="#000"/>
<rect x="514" y="212" width="1" height="10" fill="#32cd32"/>
<rect x="518" y="184" width="1" height="37" fill="#000"/>
<rect x="517" y="211" width="3" height="2" fill="#000"/>
<rect x="522" y="207" width="1" height="21" fill="#000"/>
<rect x="521" y="212" width="3" height="2" fill="#000"/>
<rect x="526" y="203" width="1" height="19" fill="#000"/>
<rect x="525" y="209" width="3" height="4" fill="#000"/>
<rect x="526" y="210" width="1" height="2" fill="#32cd32"/>
<rect x="530" y="198" width="1" height="11" fill="#000"/>
<rect x="529" y="203" width="3" height="6" fill="#000"/>
<rect x="530" y="204" width="1" height="4" fill="#32cd32"/>
<rect x="534" y="201" width="1" height="12" fill="#000"/>
<rect x="533" y="201" width="3" height="8" fill="#000"/>
<rect x="534" y="202" width="1" height="6" fill="#ff0000"/>
<rect x="538" y="209" width="1" height="7" fill="#000"/>
<rect x="537" y="209" width="3" height="2" fill="#000"/>
<rect x="542" y="203" width="1" height="10" fill="#000"/>
<rect x="541" y="208" width="3" height="2" fill="#000"/>
<rect x="546" y="208" width="1" height="43" fill="#000"/>
<rect x="545" y="208" width="3" height="26" fill="#000"/>
<rect x="546" y="209" width="1" height="24" fill="#ff0000"/>
<rect x="550" y="228" width="1" height="40" fill="#000"/>
<rect x="549" y="235" width="3" height="30" fill="#000"/>
<rect x="550" y="236" width="1" height="28" fill="#ff0000"/>
<rect x="554" y="261" width="1" height="13" fill="#000"/>
<rect x="553" y="265" width="3" height="4" fill="#000"/>
<rect x="554" y="266" width="1" height="2" fill="#ff0000"/>
<rect x="558" y="254" width="1" height="16" fill="#000"/>
<rect x="557" y="255" width="3" height="15" fill="#000"/>
<rect x="558" y="256" width="1" height="13" fill="#32cd32"/>
<rect x="562" y="252" width="1" height="17" fill="#000"/>
<rect x="561" y="255" width="3" height="10" fill="#000"/>
<rect x="562" y="256" width="1" height="8" fill="#ff0000"/>
<rect x="566" y="259" width="1" height="41" fill="#000"/>
<rect x="565" y="264" width="3" height="35" fill="#000"/>
<rect x="566" y="265" width="1" height="33" fill="#ff0000"/>
<rect x="570" y="285" width="1" height="44" fill="#000"/>
<rect x="569" y="299" width="3" height="28" fill="#000"/>
<rect x="570" y="300" width="1" height="26" fill="#ff0000"/>
<rect x="574" y="318" width="1" height="35" fill="#000"/>
<rect x="573" y="327" width="3" height="6" fill="#000"/>
<rect x="574" y="328" width="1" height="4" fill="#ff0000"/>
<rect x="578" y="330" width="1" height="16" fill="#000"/>
<rect x="577" y="332" width="3" height="11" fill="#000"/>
<rect x="578" y="333" width="1" height="9" fill="#ff0000"/>
<rect x="582" y="354" width="1" height="16" fill="#000"/>
<rect x="581" y="361" width="3" height="7" fill="#000"/>
<rect x="582" y="362" width="1" height="5" fill="#32cd32"/>
<rect x="586" y="363" width="1" height="31" fill="#000"/>
<rect x="585" y="363" width="3" height="18" fill="#000"/>
<rect x="586" y="364" width="1" height="16" fill="#ff0000"/>
<rect x="590" y="346" width="1" height="37" fill="#000"/>
<rect x="589" y="353" width="3" height="28" fill="#000"/>
<rect x="590" y="354" width="1" height="26" fill="#32cd32"/>
<rect x="594" y="330" width="1" height="38" fill="#000"/>
<rect x="593" y="331" width="3" height="22" fill="#000"/>
<rect x="594" y="332" width="1" height="20" fill="#32cd32"/>
<rect x="598" y="331" width="1" height="42" fill="#000"/>
<rect x="597" y="333" width="3" height="35" fill="#000"/>
<rect x="598" y="334" width="1" height="33" fill="#ff0000"/>
<rect x="602" y="334" width="1" height="40" fill="#000"/>
<rect x="601" y="341" width="3" height="27" fill="#000"/>
<rect x="602" y="342" width="1" height="25" fill="#32cd32"/>
<rect x="606" y="335" width="1" height="20" fill="#000"/>
<rect x="605" y="338" width="3" height="3" fill="#000"/>
<rect x="606" y="339" width="1" height="1" fill="#32cd32"/>
<rect x="610" y="333" width="1" height="13" fill="#000"/>
<rect x="609" y="338" width="3" height="6" fill="#000"/>
<rect x="610" y="339" width="1" height="4" fill="#ff0000"/>
<rect x="614" y="330" width="1" height="45" fill="#000"/>
<rect x="613" y="344" width="3" height="11" fill="#000"/>
<rect x="614" y="345" width="1" height="9" fill="#ff0000"/>
<rect x="618" y="325" width="1" height="33" fill="#000"/>
<rect x="617" y="328" width="3" height="28" fill="#000"/>
<rect x="618" y="329" width="1" height="26" fill="#32cd32"/>
<rect x="622" y="316" width="1" height="25" fill="#000"/>
<rect x="621" y="323" width="3" height="7" fill="#000"/>
<rect x="622" y="324" width="1" height="5" fill="#32cd32"/>
<rect x="626" y="316" width="1" height="26" fill="#000"/>
<rect x="625" y="323" width="3" height="13" fill="#000"/>
<rect x="626" y="324" width="1" height="11" fill="#ff0000"/>
<rect x="630" y="326" width="1" height="14" fill="#000"/>
<rect x="629" y="335" width="3" height="4" fill="#000"/>
<rect x="630" y="336" width="1" height="2" fill="#ff0000"/>
<rect x="634" y="333" width="1" height="26" fill="#000"/>
<rect x="633" y="340" width="3" height="11" fill="#000"/>
<rect x="634" y="341" width="1" height="9" fill="#ff0000"/>
<rect x="638" y="333" width="1" height="31" fill="#000"/>
<rect x="637" y="333" width="3" height="18" fill="#000"/>
<rect x="638" y="334" width="1" height="16" fill="#32cd32"/>
<rect x="642" y="313" width="1" height="27" fill="#000"/>
<rect x="641" y="332" width="3" height="2" fill="#000"/>
<rect x="646" y="305" width="1" height="45" fill="#000"/>
<rect x="645" y="313" width="3" height="20" fill="#000"/>
<rect x="646" y="314" width="1" height="18" fill="#32cd32"/>
<rect x="650" y="303" width="1" height="13" fill="#000"/>
<rect x="649" y="312" width="3" height="3" fill="#000"/>
<rect x="650" y="313" width="1" height="1" fill="#ff0000"/>
<rect x="654" y="310" width="1" height="18" fill="#000"/>
<rect x="653" y="315" width="3" height="6" fill="#000"/>
<rect x="654" y="316" width="1" height="4" fill="#ff0000"/>
<rect x="658" y="314" width="1" height="12" fill="#000"/>
<rect x="657" y="321" width="3" height="2" fill="#000"/>
<rect x="662" y="294" width="1" height="32" fill="#000"/>
<rect x="661" y="295" width="3" height="28" fill="#000"/>
<rect x="662" y="296" width="1" height="26" fill="#32cd32"/>
<rect x="666" y="253" width="1" height="52" fill="#000"/>
<rect x="665" y="269" width="3" height="26" fill="#000"/>
<rect x="666" y="270" width="1" height="24" fill="#32cd32"/>
<rect x="670" y="265" width="1" height="24" fill="#000"/>
<rect x="669" y="269" width="3" height="1" fill="#000"/>
<rect x="674" y="265" width="1" height="9" fill="#000"/>
<rect x="673" y="269" width="3" height="1" fill="#000"/>
<rect x="678" y="269" width="1" height="15" fill="#000"/>
<rect x="677" y="270" width="3" height="13" fill="#000"/>
<rect x="678" y="271" width="1" height="11" fill="#ff0000"/>
<rect x="682" y="273" width="1" height="10" fill="#000"/>
<rect x="681" y="277" width="3" height="5" fill="#000"/>
<rect x="682" y="278" width="1" height="3" fill="#32cd32"/>
<rect x="686" y="275" width="1" height="29" fill="#000"/>
<rect x="685" y="278" width="3" height="16" fill="#000"/>
<rect x="686" y="279" width="1" height="14" fill="#ff0000"/>
<rect x="690" y="284" width="1" height="27" fill="#000"/>
<rect x="689" y="288" width="3" height="6" fill="#000"/>
<rect x="690" y="289" width="1" height="4" fill="#32cd32"/>
<rect x="694" y="281" width="1" height="28" fill="#000"/>
<rect x="693" y="288" width="3" height="13" fill="#000"/>
<rect x="694" y="289" width="1" height="11" fill="#ff0000"/>
<rect x="698" y="295" width="1" height="9" fill="#000"/>
<rect x="697" y="297" width="3" height="4" fill="#000"/>
<rect x="698" y="298" width="1" height="2" fill="#32cd32"/>
<rect x="702" y="326" width="1" height="18" fill="#000"/>
<rect x="701" y="335" width="3" height="8" fill="#000"/>
<rect x="702" y="336" width="1" height="6" fill="#ff0000"/>
<rect x="706" y="338" width="1" height="8" fill="#000"/>
<rect x="705" y="340" width="3" height="2" fill="#000"/>
<rect x="710" y="326" width="1" height="24" fill="#000"/>
<rect x="709" y="340" width="3" height="2" fill="#000"/>
<rect x="714" y="336" width="1" height="24" fill="#000"/>
<rect x="713" y="341" width="3" height="19" fill="#000"/>
<rect x="714" y="342" width="1" height="17" fill="#ff0000"/>
<rect x="718" y="344" width="1" height="21" fill="#000"/>
<rect x="717" y="345" width="3" height="15" fill="#000"/>
<rect x="718" y="346" width="1" height="13" fill="#32cd32"/>
<rect x="722" y="321" width="1" height="25" fill="#000"/>
<rect x="721" y="336" width="3" height="10" fill="#000"/>
<rect x="722" y="337" width="1" height="8" fill="#32cd32"/>
<rect x="726" y="334" width="1" height="26" fill="#000"/>
<rect x="725" y="336" width="3" height="13" fill="#000"/>
<rect x="726" y="337" width="1" height="11" fill="#ff0000"/>
<rect x="730" y="348" width="1" height="15" fill="#000"/>
<rect x="729" y="349" width="3" height="7" fill="#000"/>
<rect x="730" y="350" width="1" height="5" fill="#ff0000"/>
<rect x="734" y="323" width="1" height="38" fill="#000"/>
<rect x="733" y="325" width="3" height="30" fill="#000"/>
<rect x="734" y="326" width="1" height="28" fill="#32cd32"/>
<rect x="738" y="314" width="1" height="21" fill="#000"/>
<rect x="737" y="325" width="3" height="9" fill="#000"/>
<rect x="738" y="326" width="1" height="7" fill="#ff0000"/>
<rect x="742" y="321" width="1" height="25" fill="#000"/>
<rect x="741" y="334" width="3" height="2" fill="#000"/>
<rect x="746" y="323" width="1" height="15" fill="#000"/>
<rect x="745" y="329" width="3" height="6" fill="#000"/>
<rect x="746" y="330" width="1" height="4" fill="#32cd32"/>
<rect x="750" y="320" width="1" height="10" fill="#000"/>
<rect x="749" y="324" width="3" height="5" fill="#000"/>
<rect x="750" y="325" width="1" height="3" fill="#32cd32"/>
<rect x="754" y="321" width="1" height="10" fill="#000"/>
<rect x="753" y="324" width="3" height="5" fill="#000"/>
<rect x="754" y="325" width="1" height="3" fill="#ff0000"/>
<rect x="758" y="325" width="1" height="23" fill="#000"/>
<rect x="757" y="330" width="3" height="5" fill="#000"/>
<rect x="758" y="331" width="1" height="3" fill="#ff0000"/>
<rect x="762" y="331" width="1" height="20" fill="#000"/>
<rect x="761" y="334" width="3" height="2" fill="#000"/>
<rect x="766" y="301" width="1" height="40" fill="#000"/>
<rect x="765" y="304" width="3" height="31" fill="#000"/>
<rect x="766" y="305" width="1" height="29" fill="#32cd32"/>
<rect x="770" y="296" width="1" height="78" fill="#000"/>
<rect x="769" y="305" width="3" height="59" fill="#000"/>
<rect x="770" y="306" width="1" height="57" fill="#ff0000"/>
<rect x="774" y="361" width="1" height="17" fill="#000"/>
<rect x="773" y="365" width="3" height="4" fill="#000"/>
<rect x="774" y="366" width="1" height="2" fill="#ff0000"/>
<rect x="778" y="366" width="1" height="18" fill="#000"/>
<rect x="777" y="368" width="3" height="5" fill="#000"/>
<rect x="778" y="369" width="1" height="3" fill="#ff0000"/>
<rect x="782" y="370" width="1" height="40" fill="#000"/>
<rect x="781" y="372" width="3" height="29" fill="#000"/>
<rect x="782" y="373" width="1" height="27" fill="#ff0000"/>
<rect x="786" y="399" width="1" height="31" fill="#000"/>
<rect x="785" y="400" width="3" height="20" fill="#000"/>
<rect x="786" y="401" width="1" height="18" fill="#ff0000"/>
<rect x="790" y="393" width="1" height="28" fill="#000"/>
<rect x="789" y="407" width="3" height="13" fill="#000"/>
<rect x="790" y="408" width="1" height="11" fill="#32cd32"/>
<rect x="794" y="384" width="1" height="26" fill="#000"/>
<rect x="793" y="406" width="3" height="3" fill="#000"/>
<rect x="794" y="407" width="1" height="1" fill="#32cd32"/>
<rect x="798" y="371" width="1" height="37" fill="#000"/>
<rect x="797" y="385" width="3" height="21" fill="#000"/>
<rect x="798" y="386" width="1" height="19" fill="#32cd32"/>
<rect x="802" y="378" width="1" height="20" fill="#000"/>
<rect x="801" y="385" width="3" height="10" fill="#000"/>
<rect x="802" y="386" width="1" height="8" fill="#ff0000"/>
<rect x="806" y="374" width="1" height="26" fill="#000"/>
<rect x="805" y="392" width="3" height="4" fill="#000"/>
<rect x="806" y="393" width="1" height="2" fill="#32cd32"/>
<rect x="810" y="385" width="1" height="34" fill="#000"/>
<rect x="809" y="389" width="3" height="4" fill="#000"/>
<rect x="810" y="390" width="1" height="2" fill="#32cd32"/>
<rect x="814" y="379" width="1" height="29" fill="#000"/>
<rect x="813" y="390" width="3" height="2" fill="#000"/>
<rect x="818" y="385" width="1" height="20" fill="#000"/>
<rect x="817" y="391" width="3" height="3" fill="#000"/>
<rect x="818" y="392" width="1" height="1" fill="#ff0000"/>
<rect x="822" y="376" width="1" height="38" fill="#000"/>
<rect x="821" y="389" width="3" height="24" fill="#000"/>
<rect x="822" y="390" width="1" height="22" fill="#ff0000"/>
<rect x="826" y="411" width="1" height="17" fill="#000"/>
<rect x="825" y="413" width="3" height="13" fill="#000"/>
<rect x="826" y="414" width="1" height="11" fill="#ff0000"/>
<rect x="830" y="399" width="1" height="37" fill="#000"/>
<rect x="829" y="409" width="3" height="17" fill="#000"/>
<rect x="830" y="410" width="1" height="15" fill="#32cd32"/>
<rect x="834" y="379" width="1" height="34" fill="#000"/>
<rect x="833" y="408" width="3" height="2" fill="#000"/>
<rect x="838" y="399" width="1" height="21" fill="#000"/>
<rect x="837" y="406" width="3" height="4" fill="#000"/>
<rect x="838" y="407" width="1" height="2" fill="#32cd32"/>
<rect x="842" y="378" width="1" height="38" fill="#000"/>
<rect x="841" y="384" width="3" height="22" fill="#000"/>
<rect x="842" y="385" width="1" height="20" fill="#32cd32"/>
<rect x="846" y="379" width="1" height="21" fill="#000"/>
<rect x="845" y="381" width="3" height="3" fill="#000"/>
<rect x="846" y="382" width="1" height="1" fill="#32cd32"/>
<rect x="850" y="371" width="1" height="17" fill="#000"/>
<rect x="849" y="378" width="3" height="3" fill="#000"/>
<rect x="850" y="379" width="1" height="1" fill="#32cd32"/>
<rect x="854" y="370" width="1" height="29" fill="#000"/>
<rect x="853" y="378" width="3" height="10" fill="#000"/>
<rect x="854" y="379" width="1" height="8" fill="#ff0000"/>
<rect x="858" y="345" width="1" height="50" fill="#000"/>
<rect x="857" y="346" width="3" height="40" fill="#000"/>
<rect x="858" y="347" width="1" height="38" fill="#32cd32"/>
<rect x="862" y="343" width="1" height="22" fill="#000"/>
<rect x="861" y="346" width="3" height="4" fill="#000"/>
<rect x="862" y="347" width="1" height="2" fill="#ff0000"/>
<rect x="866" y="338" width="1" height="30" fill="#000"/>
<rect x="865" y="349" width="3" height="16" fill="#000"/>
<rect x="866" y="350" width="1" height="14" fill="#ff0000"/>
<rect x="870" y="363" width="1" height="10" fill="#000"/>
<rect x="869" y="364" width="3" height="2" fill="#000"/>
<rect x="874" y="365" width="1" height="15" fill="#000"/>
<rect x="873" y="368" width="3" height="6" fill="#000"/>
<rect x="874" y="369" width="1" height="4" fill="#ff0000"/>
<rect x="878" y="341" width="1" height="34" fill="#000"/>
<rect x="877" y="341" width="3" height="33" fill="#000"/>
<rect x="878" y="342" width="1" height="31" fill="#32cd32"/>
<rect x="882" y="331" width="1" height="19" fill="#000"/>
<rect x="881" y="343" width="3" height="6" fill="#000"/>
<rect x="882" y="344" width="1" height="4" fill="#ff0000"/>
<rect x="886" y="349" width="1" height="25" fill="#000"/>
<rect x="885" y="350" width="3" height="23" fill="#000"/>
<rect x="886" y="351" width="1" height="21" fill="#ff0000"/>
<rect x="890" y="365" width="1" height="21" fill="#000"/>
<rect x="889" y="373" width="3" height="12" fill="#000"/>
<rect x="890" y="374" width="1" height="10" fill="#ff0000"/>
<rect x="894" y="373" width="1" height="13" fill="#000"/>
<rect x="893" y="374" width="3" height="10" fill="#000"/>
<rect x="894" y="375" width="1" height="8" fill="#32cd32"/>
<rect x="898" y="349" width="1" height="29" fill="#000"/>
<rect x="897" y="355" width="3" height="19" fill="#000"/>
<rect x="898" y="356" width="1" height="17" fill="#32cd32"/>
<rect x="902" y="335" width="1" height="25" fill="#000"/>
<rect x="901" y="343" width="3" height="12" fill="#000"/>
<rect x="902" y="344" width="1" height="10" fill="#32cd32"/>
<rect x="906" y="335" width="1" height="23" fill="#000"/>
<rect x="905" y="343" width="3" height="8" fill="#000"/>
<rect x="906" y="344" width="1" height="6" fill="#ff0000"/>
<rect x="910" y="341" width="1" height="32" fill="#000"/>
<rect x="909" y="351" width="3" height="19" fill="#000"/>
<rect x="910" y="352" width="1" height="17" fill="#ff0000"/>
<rect x="914" y="361" width="1" height="15" fill="#000"/>
<rect x="913" y="365" width="3" height="5" fill="#000"/>
<rect x="914" y="366" width="1" height="3" fill="#32cd32"/>
<rect x="918" y="361" width="1" height="13" fill="#000"/>
<rect x="917" y="365" width="3" height="6" fill="#000"/>
<rect x="918" y="366" width="1" height="4" fill="#ff0000"/>
<rect x="922" y="370" width="1" height="15" fill="#000"/>
<rect x="921" y="371" width="3" height="3" fill="#000"/>
<rect x="922" y="372" width="1" height="1" fill="#ff0000"/>
<rect x="926" y="371" width="1" height="25" fill="#000"/>
<rect x="925" y="373" width="3" height="13" fill="#000"/>
<rect x="926" y="374" width="1" height="11" fill="#ff0000"/>
<rect x="930" y="381" width="1" height="37" fill="#000"/>
<rect x="929" y="386" width="3" height="29" fill="#000"/>
<rect x="930" y="387" width="1" height="27" fill="#ff0000"/>
<rect x="934" y="404" width="1" height="16" fill="#000"/>
<rect x="933" y="408" width="3" height="7" fill="#000"/>
<rect x="934" y="409" width="1" height="5" fill="#32cd32"/>
<rect x="938" y="405" width="1" height="25" fill="#000"/>
<rect x="937" y="407" width="3" height="23" fill="#000"/>
<rect x="938" y="408" width="1" height="21" fill="#ff0000"/>
<rect x="942" y="434" width="1" height="11" fill="#000"/>
<rect x="941" y="442" width="3" height="2" fill="#000"/>
<rect x="946" y="441" width="1" height="12" fill="#000"/>
<rect x="945" y="444" width="3" height="7" fill="#000"/>
<rect x="946" y="445" width="1" height="5" fill="#ff0000"/>
<rect x="950" y="431" width="1" height="20" fill="#000"/>
<rect x="949" y="443" width="3" height="8" fill="#000"/>
<rect x="950" y="444" width="1" height="6" fill="#32cd32"/>
<rect x="954" y="431" width="1" height="24" fill="#000"/>
<rect x="953" y="443" width="3" height="8" fill="#000"/>
<rect x="954" y="444" width="1" height="6" fill="#ff0000"/>
<rect x="958" y="440" width="1" height="38" fill="#000"/>
<rect x="957" y="451" width="3" height="24" fill="#000"/>
<rect x="958" y="452" width="1" height="22" fill="#ff0000"/>
<rect x="962" y="469" width="1" height="31" fill="#000"/>
<rect x="961" y="475" width="3" height="18" fill="#000"/>
<rect x="962" y="476" width="1" height="16" fill="#ff0000"/>
<rect x="966" y="484" width="1" height="12" fill="#000"/>
<rect x="965" y="485" width="3" height="7" fill="#000"/>
<rect x="966" y="486" width="1" height="5" fill="#32cd32"/>
<rect x="970" y="483" width="1" height="7" fill="#000"/>
<rect x="969" y="484" width="3" height="2" fill="#000"/>
<rect x="974" y="481" width="1" height="25" fill="#000"/>
<rect x="973" y="485" width="3" height="2" fill="#000"/>
<rect x="978" y="484" width="1" height="15" fill="#000"/>
<rect x="977" y="486" width="3" height="5" fill="#000"/>
<rect x="978" y="487" width="1" height="3" fill="#ff0000"/>
<rect x="982" y="451" width="1" height="47" fill="#000"/>
<rect x="981" y="475" width="3" height="16" fill="#000"/>
<rect x="982" y="476" width="1" height="14" fill="#32cd32"/>
<rect x="986" y="435" width="1" height="43" fill="#000"/>
<rect x="985" y="445" width="3" height="30" fill="#000"/>
<rect x="986" y="446" width="1" height="28" fill="#32cd32"/>
<rect x="990" y="444" width="1" height="20" fill="#000"/>
<rect x="989" y="445" width="3" height="16" fill="#000"/>
<rect x="990" y="446" width="1" height="14" fill="#ff0000"/>
<rect x="994" y="450" width="1" height="13" fill="#000"/>
<rect x="993" y="454" width="3" height="7" fill="#000"/>
<rect x="994" y="455" width="1" height="5" fill="#32cd32"/>
<rect x="998" y="446" width="1" height="18" fill="#000"/>
<rect x="997" y="454" width="3" height="2" fill="#000"/>
<rect x="1002" y="433" width="1" height="26" fill="#000"/>
<rect x="1001" y="454" width="3" height="2" fill="#000"/>
<rect x="1006" y="436" width="1" height="28" fill="#000"/>
<rect x="1005" y="438" width="3" height="17" fill="#000"/>
<rect x="1006" y="439" width="1" height="15" fill="#32cd32"/>
<rect x="1010" y="430" width="1" height="15" fill="#000"/>
<rect x="1009" y="438" width="3" height="3" fill="#000"/>
<rect x="1010" y="439" width="1" height="1" fill="#ff0000"/>
<rect x="1014" y="435" width="1" height="11" fill="#000"/>
<rect x="1013" y="442" width="3" height="2" fill="#000"/>
<rect x="1018" y="443" width="1" height="7" fill="#000"/>
<rect x="1017" y="444" width="3" height="2" fill="#000"/>
<rect x="1022" y="425" width="1" height="29" fill="#000"/>
<rect x="1021" y="435" width="3" height="10" fill="#000"/>
<rect x="1022" y="436" width="1" height="8" fill="#32cd32"/>
<rect x="1026" y="434" width="1" height="41" fill="#000"/>
<rect x="1025" y="435" width="3" height="10" fill="#000"/>
<rect x="1026" y="436" width="1" height="8" fill="#ff0000"/>
<rect x="1030" y="415" width="1" height="35" fill="#000"/>
<rect x="1029" y="416" width="3" height="29" fill="#000"/>
<rect x="1030" y="417" width="1" height="27" fill="#32cd32"/>
<rect x="1034" y="408" width="1" height="11" fill="#000"/>
<rect x="1033" y="415" width="3" height="2" fill="#000"/>
<rect x="1038" y="413" width="1" height="12" fill="#000"/>
<rect x="1037" y="415" width="3" height="3" fill="#000"/>
<rect x="1038" y="416" width="1" height="1" fill="#ff0000"/>
<rect x="1042" y="412" width="1" height="7" fill="#000"/>
<rect x="1041" y="416" width="3" height="2" fill="#000"/>
<rect x="1046" y="404" width="1" height="16" fill="#000"/>
<rect x="1045" y="415" width="3" height="2" fill="#000"/>
<rect x="1050" y="386" width="1" height="34" fill="#000"/>
<rect x="1049" y="398" width="3" height="20" fill="#000"/>
<rect x="1050" y="399" width="1" height="18" fill="#32cd32"/>
<rect x="1054" y="384" width="1" height="47" fill="#000"/>
<rect x="1053" y="398" width="3" height="22" fill="#000"/>
<rect x="1054" y="399" width="1" height="20" fill="#ff0000"/>
<rect x="1058" y="418" width="1" height="20" fill="#000"/>
<rect x="1057" y="422" width="3" height="11" fill="#000"/>
<rect x="1058" y="423" width="1" height="9" fill="#ff0000"/>
<rect x="1062" y="403" width="1" height="30" fill="#000"/>
<rect x="1061" y="407" width="3" height="22" fill="#000"/>
<rect x="1062" y="408" width="1" height="20" fill="#32cd32"/>
<rect x="1066" y="398" width="1" height="15" fill="#000"/>
<rect x="1065" y="402" width="3" height="6" fill="#000"/>
<rect x="1066" y="403" width="1" height="4" fill="#32cd32"/>
<rect x="1070" y="366" width="1" height="42" fill="#000"/>
<rect x="1069" y="374" width="3" height="29" fill="#000"/>
<rect x="1070" y="375" width="1" height="27" fill="#32cd32"/>
<rect x="1074" y="348" width="1" height="27" fill="#000"/>
<rect x="1073" y="349" width="3" height="25" fill="#000"/>
<rect x="1074" y="350" width="1" height="23" fill="#32cd32"/>
<rect x="1078" y="329" width="1" height="21" fill="#000"/>
<rect x="1077" y="341" width="3" height="9" fill="#000"/>
<rect x="1078" y="342" width="1" height="7" fill="#32cd32"/>
<rect x="1082" y="340" width="1" height="11" fill="#000"/>
<rect x="1081" y="342" width="3" height="8" fill="#000"/>
<rect x="1082" y="343" width="1" height="6" fill="#ff0000"/>
<rect x="1086" y="344" width="1" height="11" fill="#000"/>
<rect x="1085" y="346" width="3" height="3" fill="#000"/>
<rect x="1086" y="347" width="1" height="1" fill="#32cd32"/>
<rect x="1090" y="341" width="1" height="14" fill="#000"/>
<rect x="1089" y="346" width="3" height="2" fill="#000"/>
<rect x="1094" y="338" width="1" height="22" fill="#000"/>
<rect x="1093" y="348" width="3" height="11" fill="#000"/>
<rect x="1094" y="349" width="1" height="9" fill="#ff0000"/>
<rect x="1098" y="354" width="1" height="17" fill="#000"/>
<rect x="1097" y="358" width="3" height="5" fill="#000"/>
<rect x="1098" y="359" width="1" height="3" fill="#ff0000"/>
<rect x="1102" y="333" width="1" height="37" fill="#000"/>
<rect x="1101" y="335" width="3" height="26" fill="#000"/>
<rect x="1102" y="336" width="1" height="24" fill="#32cd32"/>
<rect x="1106" y="335" width="1" height="14" fill="#000"/>
<rect x="1105" y="335" width="3" height="9" fill="#000"/>
<rect x="1106" y="336" width="1" height="7" fill="#ff0000"/>
<rect x="1110" y="341" width="1" height="25" fill="#000"/>
<rect x="1109" y="344" width="3" height="17" fill="#000"/>
<rect x="1110" y="345" width="1" height="15" fill="#ff0000"/>
<rect x="1114" y="348" width="1" height="13" fill="#000"/>
<rect x="1113" y="350" width="3" height="11" fill="#000"/>
<rect x="1114" y="351" width="1" height="9" fill="#32cd32"/>
<rect x="1118" y="294" width="1" height="56" fill="#000"/>
<rect x="1117" y="298" width="3" height="51" fill="#000"/>
<rect x="1118" y="299" width="1" height="49" fill="#32cd32"/>
<rect x="1122" y="291" width="1" height="20" fill="#000"/>
<rect x="1121" y="298" width="3" height="3" fill="#000"/>
<rect x="1122" y="299" width="1" height="1" fill="#ff0000"/>
<rect x="1126" y="285" width="1" height="20" fill="#000"/>
<rect x="1125" y="288" width="3" height="15" fill="#000"/>
<rect x="1126" y="289" width="1" height="13" fill="#32cd32"/>
<rect x="1130" y="286" width="1" height="19" fill="#000"/>
<rect x="1129" y="288" width="3" height="16" fill="#000"/>
<rect x="1130" y="289" width="1" height="14" fill="#ff0000"/>
<rect x="1134" y="290" width="1" height="17" fill="#000"/>
<rect x="1133" y="303" width="3" height="2" fill="#000"/>
<rect x="1138" y="291" width="1" height="17" fill="#000"/>
<rect x="1137" y="302" width="3" height="2" fill="#000"/>
<rect x="1142" y="289" width="1" height="32" fill="#000"/>
<rect x="1141" y="301" width="3" height="19" fill="#000"/>
<rect x="1142" y="302" width="1" height="17" fill="#ff0000"/>
<rect x="1146" y="313" width="1" height="20" fill="#000"/>
<rect x="1145" y="321" width="3" height="7" fill="#000"/>
<rect x="1146" y="322" width="1" height="5" fill="#ff0000"/>
<rect x="1150" y="303" width="1" height="31" fill="#000"/>
<rect x="1149" y="306" width="3" height="22" fill="#000"/>
<rect x="1150" y="307" width="1" height="20" fill="#32cd32"/>
<rect x="1154" y="296" width="1" height="24" fill="#000"/>
<rect x="1153" y="305" width="3" height="2" fill="#000"/>
<rect x="1158" y="303" width="1" height="17" fill="#000"/>
<rect x="1157" y="305" width="3" height="5" fill="#000"/>
<rect x="1158" y="306" width="1" height="3" fill="#ff0000"/>
<rect x="1162" y="300" width="1" height="14" fill="#000"/>
<rect x="1161" y="302" width="3" height="8" fill="#000"/>
<rect x="1162" y="303" width="1" height="6" fill="#32cd32"/>
<rect x="1166" y="288" width="1" height="27" fill="#000"/>
<rect x="1165" y="297" width="3" height="4" fill="#000"/>
<rect x="1166" y="298" width="1" height="2" fill="#32cd32"/>
<rect x="1170" y="266" width="1" height="37" fill="#000"/>
<rect x="1169" y="273" width="3" height="23" fill="#000"/>
<rect x="1170" y="274" width="1" height="21" fill="#32cd32"/>
<rect x="1174" y="266" width="1" height="19" fill="#000"/>
<rect x="1173" y="271" width="3" height="4" fill="#000"/>
<rect x="1174" y="272" width="1" height="2" fill="#32cd32"/>
<rect x="1178" y="268" width="1" height="9" fill="#000"/>
<rect x="1177" y="271" width="3" height="3" fill="#000"/>
<rect x="1178" y="272" width="1" height="1" fill="#32cd32"/>
<rect x="1182" y="268" width="1" height="15" fill="#000"/>
<rect x="1181" y="271" width="3" height="7" fill="#000"/>
<rect x="1182" y="272" width="1" height="5" fill="#ff0000"/>
<rect x="1186" y="277" width="1" height="11" fill="#000"/>
<rect x="1185" y="278" width="3" height="3" fill="#000"/>
<rect x="1186" y="279" width="1" height="1" fill="#ff0000"/>
<rect x="1190" y="259" width="1" height="26" fill="#000"/>
<rect x="1189" y="280" width="3" height="4" fill="#000"/>
<rect x="1190" y="281" width="1" height="2" fill="#ff0000"/>
<rect x="1194" y="279" width="1" height="32" fill="#000"/>
<rect x="1193" y="283" width="3" height="27" fill="#000"/>
<rect x="1194" y="284" width="1" height="25" fill="#ff0000"/>
<rect x="1198" y="304" width="1" height="12" fill="#000"/>
<rect x="1197" y="307" width="3" height="3" fill="#000"/>
<rect x="1198" y="308" width="1" height="1" fill="#32cd32"/>
<rect x="1202" y="306" width="1" height="14" fill="#000"/>
<rect x="1201" y="307" width="3" height="11" fill="#000"/>
<rect x="1202" y="308" width="1" height="9" fill="#ff0000"/>
<rect x="1206" y="303" width="1" height="15" fill="#000"/>
<rect x="1205" y="305" width="3" height="12" fill="#000"/>
<rect x="1206" y="306" width="1" height="10" fill="#32cd32"/>
<rect x="1210" y="300" width="1" height="6" fill="#000"/>
<rect x="1209" y="304" width="3" height="2" fill="#000"/>
<rect x="1214" y="303" width="1" height="40" fill="#000"/>
<rect x="1213" y="304" width="3" height="31" fill="#000"/>
<rect x="1214" y="305" width="1" height="29" fill="#ff0000"/>
<rect x="1218" y="320" width="1" height="23" fill="#000"/>
<rect x="1217" y="334" width="3" height="7" fill="#000"/>
<rect x="1218" y="335" width="1" height="5" fill="#ff0000"/>
<rect x="1222" y="314" width="1" height="30" fill="#000"/>
<rect x="1221" y="319" width="3" height="22" fill="#000"/>
<rect x="1222" y="320" width="1" height="20" fill="#32cd32"/>
<rect x="1226" y="290" width="1" height="30" fill="#000"/>
<rect x="1225" y="317" width="3" height="2" fill="#000"/>
<rect x="1230" y="306" width="1" height="14" fill="#000"/>
<rect x="1229" y="307" width="3" height="10" fill="#000"/>
<rect x="1230" y="308" width="1" height="8" fill="#32cd32"/>
<rect x="1234" y="292" width="1" height="17" fill="#000"/>
<rect x="1233" y="296" width="3" height="12" fill="#000"/>
<rect x="1234" y="297" width="1" height="10" fill="#32cd32"/>
<rect x="98" y="80" width="2" height="2" fill="#ff0000"/>
<rect x="99" y="80" width="2" height="2" fill="#ff0000"/>
<rect x="100" y="79" width="2" height="2" fill="#ff0000"/>
<rect x="101" y="79" width="2" height="2" fill="#ff0000"/>
<rect x="102" y="79" width="2" height="2" fill="#ff0000"/>
<rect x="103" y="78" width="2" height="2" fill="#ff0000"/>
<rect x="104" y="78" width="2" height="2" fill="#ff0000"/>
<rect x="105" y="77" width="2" height="2" fill="#ff0000"/>
<rect x="106" y="77" width="2" height="2" fill="#ff0000"/>
<rect x="107" y="77" width="2" height="2" fill="#ff0000"/>
<rect x="108" y="76" width="2" height="2" fill="#ff0000"/>
<rect x="109" y="76" width="2" height="2" fill="#ff0000"/>
<rect x="110" y="76" width="2" height="2" fill="#ff0000"/>
<rect x="111" y="75" width="2" height="2" fill="#ff0000"/>
<rect x="112" y="75" width="2" height="2" fill="#ff0000"/>
<rect x="113" y="75" width="2" height="2" fill="#ff0000"/>
<rect x="114" y="74" width="2" height="2" fill="#ff0000"/>
<rect x="115" y="74" width="2" height="2" fill="#ff0000"/>
<rect x="116" y="73" width="2" height="2" fill="#ff0000"/>
<rect x="117" y="73" width="2" height="2" fill="#ff0000"/>
<rect x="118" y="73" width="2" height="2" fill="#ff0000"/>
<rect x="119" y="72" width="2" height="2" fill="#ff0000"/>
<rect x="120" y="72" width="2" height="2" fill="#ff0000"/>
<rect x="121" y="72" width="2" height="2" fill="#ff0000"/>
<rect x="122" y="71" width="2" height="2" fill="#ff0000"/>
<rect x="123" y="71" width="2" height="2" fill="#ff0000"/>
<rect x="124" y="70" width="2" height="2" fill="#ff0000"/>
<rect x="125" y="70" width="2" height="2" fill="#ff0000"/>
<rect x="126" y="70" width="2" height="2" fill="#ff0000"/>
<rect x="127" y="69" width="2" height="2" fill="#ff0000"/>
<rect x="128" y="69" width="2" height="2" fill="#ff0000"/>
<rect x="129" y="69" width="2" height="2" fill="#ff0000"/>
<rect x="130" y="68" width="2" height="2" fill="#ff0000"/>
<rect x="131" y="68" width="2" height="2" fill="#ff0000"/>
<rect x="132" y="68" width="2" height="2" fill="#ff0000"/>
<rect x="133" y="67" width="2" height="2" fill="#ff0000"/>
<rect x="134" y="67" width="2" height="2" fill="#ff0000"/>
<rect x="135" y="66" width="2" height="2" fill="#ff0000"/>
<rect x="136" y="66" width="2" height="2" fill="#ff0000"/>
<rect x="137" y="66" width="2" height="2" fill="#ff0000"/>
<rect x="138" y="65" width="2" height="2" fill="#ff0000"/>
<rect x="139" y="65" width="2" height="2" fill="#ff0000"/>
<rect x="140" y="65" width="2" height="2" fill="#ff0000"/>
<rect x="141" y="64" width="2" height="2" fill="#ff0000"/>
<rect x="142" y="64" width="2" height="2" fill="#ff0000"/>
<rect x="143" y="64" width="2" height="2" fill="#ff0000"/>
<rect x="144" y="63" width="2" height="2" fill="#ff0000"/>
<rect x="145" y="63" width="2" height="2" fill="#ff0000"/>
<rect x="146" y="62" width="2" height="2" fill="#ff0000"/>
<rect x="147" y="62" width="2" height="2" fill="#ff0000"/>
<rect x="148" y="62" width="2" height="2" fill="#ff0000"/>
<rect x="149" y="61" width="2" height="2" fill="#ff0000"/>
<rect x="150" y="61" width="2" height="2" fill="#ff0000"/>
<rect x="151" y="61" width="2" height="2" fill="#ff0000"/>
<rect x="152" y="60" width="2" height="2" fill="#ff0000"/>
<rect x="153" y="60" width="2" height="2" fill="#ff0000"/>
<rect x="154" y="60" width="2" height="2" fill="#ff0000"/>
<rect x="155" y="59" width="2" height="2" fill="#ff0000"/>
<rect x="156" y="59" width="2" height="2" fill="#ff0000"/>
<rect x="157" y="58" width="2" height="2" fill="#ff0000"/>
<rect x="158" y="58" width="2" height="2" fill="#ff0000"/>
<rect x="159" y="58" width="2" height="2" fill="#ff0000"/>
<rect x="160" y="57" width="2" height="2" fill="#ff0000"/>
<rect x="161" y="57" width="2" height="2" fill="#ff0000"/>
<rect x="162" y="57" width="2" height="2" fill="#ff0000"/>
<rect x="163" y="56" width="2" height="2" fill="#ff0000"/>
<rect x="164" y="56" width="2" height="2" fill="#ff0000"/>
<rect x="165" y="56" width="2" height="2" fill="#ff0000"/>
<rect x="1106" y="291" width="2" height="2" fill="#ff0000"/>
<rect x="1107" y="291" width="2" height="2" fill="#ff0000"/>
<rect x="1108" y="290" width="2" height="2" fill="#ff0000"/>
<rect x="1109" y="290" width="2" height="2" fill="#ff0000"/>
<rect x="1110" y="289" width="2" height="2" fill="#ff0000"/>
<rect x="1111" y="289" width="2" height="2" fill="#ff0000"/>
<rect x="1112" y="288" width="2" height="2" fill="#ff0000"/>
<rect x="1113" y="288" width="2" height="2" fill="#ff0000"/>
<rect x="1114" y="287" width="2" height="2" fill="#ff0000"/>
<rect x="1115" y="287" width="2" height="2" fill="#ff0000"/>
<rect x="1116" y="286" width="2" height="2" fill="#ff0000"/>
<rect x="1117" y="286" width="2" height="2" fill="#ff0000"/>
<rect x="1118" y="285" width="2" height="2" fill="#ff0000"/>
<rect x="1119" y="285" width="2" height="2" fill="#ff0000"/>
<rect x="1120" y="284" width="2" height="2" fill="#ff0000"/>
<rect x="1121" y="284" width="2" height="2" fill="#ff0000"/>
<rect x="1122" y="283" width="2" height="2" fill="#ff0000"/>
<rect x="1123" y="283" width="2" height="2" fill="#ff0000"/>
<rect x="1124" y="283" width="2" height="2" fill="#ff0000"/>
<rect x="1125" y="282" width="2" height="2" fill="#ff0000"/>
<rect x="1126" y="282" width="2" height="2" fill="#ff0000"/>
<rect x="1127" y="281" width="2" height="2" fill="#ff0000"/>
<rect x="1128" y="281" width="2" height="2" fill="#ff0000"/>
<rect x="1129" y="280" width="2" height="2" fill="#ff0000"/>
<rect x="1130" y="280" width="2" height="2" fill="#ff0000"/>
<rect x="1131" y="279" width="2" height="2" fill="#ff0000"/>
<rect x="1132" y="279" width="2" height="2" fill="#ff0000"/>
<rect x="1133" y="278" width="2" height="2" fill="#ff0000"/>
<rect x="1134" y="278" width="2" height="2" fill="#ff0000"/>
<rect x="1135" y="277" width="2" height="2" fill="#ff0000"/>
<rect x="1136" y="277" width="2" height="2" fill="#ff0000"/>
<rect x="1137" y="276" width="2" height="2" fill="#ff0000"/>
<rect x="1138" y="276" width="2" height="2" fill="#ff0000"/>
<rect x="1139" y="275" width="2" height="2" fill="#ff0000"/>
<rect x="1140" y="275" width="2" height="2" fill="#ff0000"/>
<rect x="1141" y="275" width="2" height="2" fill="#ff0000"/>
<rect x="1142" y="274" width="2" height="2" fill="#ff0000"/>
<rect x="1143" y="274" width="2" height="2" fill="#ff0000"/>
<rect x="1144" y="273" width="2" height="2" fill="#ff0000"/>
<rect x="1145" y="273" width="2" height="2" fill="#ff0000"/>
<rect x="1146" y="272" width="2" height="2" fill="#ff0000"/>
<rect x="1147" y="272" width="2" height="2" fill="#ff0000"/>
<rect x="1148" y="271" width="2" height="2" fill="#ff0000"/>
<rect x="1149" y="271" width="2" height="2" fill="#ff0000"/>
<rect x="1150" y="270" width="2" height="2" fill="#ff0000"/>
<rect x="1151" y="270" width="2" height="2" fill="#ff0000"/>
<rect x="1152" y="269" width="2" height="2" fill="#ff0000"/>
<rect x="1153" y="269" width="2" height="2" fill="#ff0000"/>
<rect x="1154" y="268" width="2" height="2" fill="#ff0000"/>
<rect x="1155" y="268" width="2" height="2" fill="#ff0000"/>
<rect x="1156" y="268" width="2" height="2" fill="#ff0000"/>
<rect x="1157" y="267" width="2" height="2" fill="#ff0000"/>
<rect x="1158" y="267" width="2" height="2" fill="#ff0000"/>
<rect x="1159" y="266" width="2" height="2" fill="#ff0000"/>
<rect x="1160" y="266" width="2" height="2" fill="#ff0000"/>
<rect x="1161" y="265" width="2" height="2" fill="#ff0000"/>
<rect x="1162" y="265" width="2" height="2" fill="#ff0000"/>
<rect x="1163" y="264" width="2" height="2" fill="#ff0000"/>
<rect x="1164" y="264" width="2" height="2" fill="#ff0000"/>
<rect x="1165" y="263" width="2" height="2" fill="#ff0000"/>
<rect x="1166" y="263" width="2" height="2" fill="#ff0000"/>
<rect x="1167" y="262" width="2" height="2" fill="#ff0000"/>
<rect x="1168" y="262" width="2" height="2" fill="#ff0000"/>
<rect x="1169" y="261" width="2" height="2" fill="#ff0000"/>
<rect x="1170" y="261" width="2" height="2" fill="#ff0000"/>
<rect x="1171" y="260" width="2" height="2" fill="#ff0000"/>
<rect x="1172" y="260" width="2" height="2" fill="#ff0000"/>
<rect x="1173" y="260" width="2" height="2" fill="#ff0000"/>
<rect x="1174" y="259" width="2" height="2" fill="#ff0000"/>
<rect x="1175" y="259" width="2" height="2" fill="#ff0000"/>
<rect x="1176" y="258" width="2" height="2" fill="#ff0000"/>
<rect x="1177" y="258" width="2" height="2" fill="#ff0000"/>
<rect x="1178" y="257" width="2" height="2" fill="#ff0000"/>
<rect x="1179" y="257" width="2" height="2" fill="#ff0000"/>
<rect x="1180" y="256" width="2" height="2" fill="#ff0000"/>
<rect x="1181" y="256" width="2" height="2" fill="#ff0000"/>
<rect x="1182" y="255" width="2" height="2" fill="#ff0000"/>
<rect x="1183" y="255" width="2" height="2" fill="#ff0000"/>
<rect x="1184" y="254" width="2" height="2" fill="#ff0000"/>
<rect x="1185" y="254" width="2" height="2" fill="#ff0000"/>
<rect x="1186" y="253" width="2" height="2" fill="#ff0000"/>
<rect x="1187" y="253" width="2" height="2" fill="#ff0000"/>
<rect x="1188" y="252" width="2" height="2" fill="#ff0000"/>
<rect x="1189" y="252" width="2" height="2" fill="#ff0000"/>
<rect x="17" y="34" width="184" height="11" fill="#ffffff"/>
<text x="17.8" y="43" font-size="9.4" fill="#000" stroke="#000" stroke-width="0.2" textLength="54.5" lengthAdjust="spacingAndGlyphs">EURUSD,H4</text>
<text x="77.7" y="43" font-size="9.4" fill="#000" stroke="#000" stroke-width="0.2" textLength="28.6" lengthAdjust="spacingAndGlyphs">1.3764</text>
<text x="108.7" y="43" font-size="9.4" fill="#000" stroke="#000" stroke-width="0.2" textLength="28.6" lengthAdjust="spacingAndGlyphs">1.3813</text>
<text x="139.6" y="43" font-size="9.4" fill="#000" stroke="#000" stroke-width="0.2" textLength="28.6" lengthAdjust="spacingAndGlyphs">1.3760</text>
<text x="170.6" y="43" font-size="9.4" fill="#000" stroke="#000" stroke-width="0.2" textLength="28.6" lengthAdjust="spacingAndGlyphs">1.3803</text>
<rect x="14" y="32" width="0" height="0" fill="#fff"/>
<rect x="13" y="31" width="1537" height="1" fill="#000"/>
<rect x="13" y="521" width="1537" height="1" fill="#000"/>
<rect x="13" y="31" width="1" height="491" fill="#000"/>
<rect x="1549" y="31" width="1" height="491" fill="#000"/>
<polygon points="1236,32 1245,32 1240.5,36.8" fill="#c0c0c0" shape-rendering="auto"/>
<rect x="1240" y="36" width="1" height="2" fill="#c0c0c0"/>
<rect x="1550" y="37" width="2" height="1" fill="#000"/>
<text x="1554.6" y="40" font-size="9.4" fill="#000" stroke="#000" stroke-width="0.2" textLength="28.6" lengthAdjust="spacingAndGlyphs">1.4605</text>
<rect x="1550" y="69" width="2" height="1" fill="#000"/>
<text x="1554.6" y="72" font-size="9.4" fill="#000" stroke="#000" stroke-width="0.2" textLength="28.6" lengthAdjust="spacingAndGlyphs">1.4505</text>
<rect x="1550" y="102" width="2" height="1" fill="#000"/>
<text x="1554.6" y="105" font-size="9.4" fill="#000" stroke="#000" stroke-width="0.2" textLength="28.6" lengthAdjust="spacingAndGlyphs">1.4405</text>
<rect x="1550" y="134" width="2" height="1" fill="#000"/>
<text x="1554.6" y="137" font-size="9.4" fill="#000" stroke="#000" stroke-width="0.2" textLength="28.6" lengthAdjust="spacingAndGlyphs">1.4305</text>
<rect x="1550" y="166" width="2" height="1" fill="#000"/>
<text x="1554.6" y="169" font-size="9.4" fill="#000" stroke="#000" stroke-width="0.2" textLength="28.6" lengthAdjust="spacingAndGlyphs">1.4205</text>
<rect x="1550" y="198" width="2" height="1" fill="#000"/>
<text x="1554.6" y="201" font-size="9.4" fill="#000" stroke="#000" stroke-width="0.2" textLength="28.6" lengthAdjust="spacingAndGlyphs">1.4105</text>
<rect x="1550" y="230" width="2" height="1" fill="#000"/>
<text x="1554.6" y="233" font-size="9.4" fill="#000" stroke="#000" stroke-width="0.2" textLength="28.6" lengthAdjust="spacingAndGlyphs">1.4005</text>
<rect x="1550" y="262" width="2" height="1" fill="#000"/>
<text x="1554.6" y="265" font-size="9.4" fill="#000" stroke="#000" stroke-width="0.2" textLength="28.6" lengthAdjust="spacingAndGlyphs">1.3905</text>
<rect x="1550" y="294" width="2" height="1" fill="#000"/>
<text x="1554.6" y="297" font-size="9.4" fill="#000" stroke="#000" stroke-width="0.2" textLength="28.6" lengthAdjust="spacingAndGlyphs">1.3805</text>
<rect x="1550" y="326" width="2" height="1" fill="#000"/>
<text x="1554.6" y="329" font-size="9.4" fill="#000" stroke="#000" stroke-width="0.2" textLength="28.6" lengthAdjust="spacingAndGlyphs">1.3705</text>
<rect x="1550" y="358" width="2" height="1" fill="#000"/>
<text x="1554.6" y="361" font-size="9.4" fill="#000" stroke="#000" stroke-width="0.2" textLength="28.6" lengthAdjust="spacingAndGlyphs">1.3605</text>
<rect x="1550" y="390" width="2" height="1" fill="#000"/>
<text x="1554.6" y="393" font-size="9.4" fill="#000" stroke="#000" stroke-width="0.2" textLength="28.6" lengthAdjust="spacingAndGlyphs">1.3505</text>
<rect x="1550" y="423" width="2" height="1" fill="#000"/>
<text x="1554.6" y="426" font-size="9.4" fill="#000" stroke="#000" stroke-width="0.2" textLength="28.6" lengthAdjust="spacingAndGlyphs">1.3405</text>
<rect x="1550" y="455" width="2" height="1" fill="#000"/>
<text x="1554.6" y="458" font-size="9.4" fill="#000" stroke="#000" stroke-width="0.2" textLength="28.6" lengthAdjust="spacingAndGlyphs">1.3305</text>
<rect x="1550" y="487" width="2" height="1" fill="#000"/>
<text x="1554.6" y="490" font-size="9.4" fill="#000" stroke="#000" stroke-width="0.2" textLength="28.6" lengthAdjust="spacingAndGlyphs">1.3205</text>
<rect x="1550" y="519" width="2" height="1" fill="#000"/>
<text x="1554.6" y="522" font-size="9.4" fill="#000" stroke="#000" stroke-width="0.2" textLength="28.6" lengthAdjust="spacingAndGlyphs">1.3105</text>
<rect x="1551" y="289" width="36" height="11" fill="#000000"/>
<text x="1554.6" y="298" font-size="9.4" fill="#ffffff" stroke="#ffffff" stroke-width="0.2" textLength="28.6" lengthAdjust="spacingAndGlyphs">1.3803</text>
<rect x="1551" y="49" width="36" height="11" fill="#ff0000"/>
<text x="1554.6" y="58" font-size="9.4" fill="#ffffff" stroke="#ffffff" stroke-width="0.2" textLength="28.6" lengthAdjust="spacingAndGlyphs">1.4550</text>
<rect x="1551" y="60" width="36" height="11" fill="#32cd32"/>
<text x="1554.6" y="69" font-size="9.4" fill="#ffffff" stroke="#ffffff" stroke-width="0.2" textLength="28.6" lengthAdjust="spacingAndGlyphs">1.4515</text>
<rect x="1551" y="81" width="36" height="11" fill="#ff0000"/>
<text x="1554.6" y="90" font-size="9.4" fill="#ffffff" stroke="#ffffff" stroke-width="0.2" textLength="28.6" lengthAdjust="spacingAndGlyphs">1.4450</text>
<rect x="1551" y="120" width="36" height="11" fill="#ff0000"/>
<text x="1554.6" y="129" font-size="9.4" fill="#ffffff" stroke="#ffffff" stroke-width="0.2" textLength="28.6" lengthAdjust="spacingAndGlyphs">1.4330</text>
<rect x="1551" y="147" width="36" height="11" fill="#32cd32"/>
<text x="1554.6" y="156" font-size="9.4" fill="#ffffff" stroke="#ffffff" stroke-width="0.2" textLength="28.6" lengthAdjust="spacingAndGlyphs">1.4245</text>
<rect x="1551" y="181" width="36" height="11" fill="#ff0000"/>
<text x="1554.6" y="190" font-size="9.4" fill="#ffffff" stroke="#ffffff" stroke-width="0.2" textLength="28.6" lengthAdjust="spacingAndGlyphs">1.4140</text>
<rect x="1551" y="218" width="36" height="11" fill="#32cd32"/>
<text x="1554.6" y="227" font-size="9.4" fill="#ffffff" stroke="#ffffff" stroke-width="0.2" textLength="28.6" lengthAdjust="spacingAndGlyphs">1.4025</text>
<rect x="1551" y="232" width="36" height="11" fill="#ff0000"/>
<text x="1554.6" y="241" font-size="9.4" fill="#ffffff" stroke="#ffffff" stroke-width="0.2" textLength="28.6" lengthAdjust="spacingAndGlyphs">1.3980</text>
<rect x="1551" y="248" width="36" height="11" fill="#ff0000"/>
<text x="1554.6" y="257" font-size="9.4" fill="#ffffff" stroke="#ffffff" stroke-width="0.2" textLength="28.6" lengthAdjust="spacingAndGlyphs">1.3930</text>
<rect x="1551" y="264" width="36" height="11" fill="#ff0000"/>
<text x="1554.6" y="273" font-size="9.4" fill="#ffffff" stroke="#ffffff" stroke-width="0.2" textLength="28.6" lengthAdjust="spacingAndGlyphs">1.3880</text>
<rect x="1551" y="296" width="36" height="11" fill="#ff0000"/>
<text x="1554.6" y="305" font-size="9.4" fill="#ffffff" stroke="#ffffff" stroke-width="0.2" textLength="28.6" lengthAdjust="spacingAndGlyphs">1.3780</text>
<rect x="1551" y="328" width="36" height="11" fill="#ff0000"/>
<text x="1554.6" y="337" font-size="9.4" fill="#ffffff" stroke="#ffffff" stroke-width="0.2" textLength="28.6" lengthAdjust="spacingAndGlyphs">1.3680</text>
<rect x="1551" y="354" width="36" height="11" fill="#ff0000"/>
<text x="1554.6" y="363" font-size="9.4" fill="#ffffff" stroke="#ffffff" stroke-width="0.2" textLength="28.6" lengthAdjust="spacingAndGlyphs">1.3600</text>
<rect x="1551" y="380" width="36" height="11" fill="#ff0000"/>
<text x="1554.6" y="389" font-size="9.4" fill="#ffffff" stroke="#ffffff" stroke-width="0.2" textLength="28.6" lengthAdjust="spacingAndGlyphs">1.3520</text>
<rect x="1551" y="428" width="36" height="11" fill="#ff0000"/>
<text x="1554.6" y="437" font-size="9.4" fill="#ffffff" stroke="#ffffff" stroke-width="0.2" textLength="28.6" lengthAdjust="spacingAndGlyphs">1.3370</text>
<rect x="1551" y="489" width="36" height="11" fill="#ff0000"/>
<text x="1554.6" y="498" font-size="9.4" fill="#ffffff" stroke="#ffffff" stroke-width="0.2" textLength="28.6" lengthAdjust="spacingAndGlyphs">1.3180</text>
<line x1="15" y1="568.5" x2="1549" y2="568.5" stroke="#c0c0c0" stroke-width="1" stroke-dasharray="3 3"/>
<polyline points="14.5,567.0 18.5,565.5 22.5,567.0 26.5,554.8 30.5,551.1 34.5,550.5 38.5,547.3 42.5,563.6 46.5,568.3 50.5,578.3 54.5,579.2 58.5,578.3 62.5,580.5 66.5,578.3 70.5,576.4 74.5,573.0 78.5,575.4 82.5,574.9 86.5,571.1 90.5,568.3 94.5,567.0 98.5,565.5 102.5,559.5 106.5,557.6 110.5,557.3 114.5,546.4 118.5,539.8 122.5,536.6 126.5,537.9 130.5,542.6 134.5,549.2 138.5,552.4 142.5,553.9 146.5,556.1 150.5,560.4 154.5,560.4 158.5,558.6 162.5,550.5 166.5,553.5 170.5,556.1 174.5,561.9 178.5,563.3 182.5,566.6 186.5,571.1 190.5,578.6 194.5,580.5 198.5,581.6 202.5,583.9 206.5,582.0 210.5,570.8 214.5,567.0 218.5,565.5 222.5,566.1 226.5,567.9 230.5,564.2 234.5,562.3 238.5,565.1 242.5,568.5 246.5,568.9 250.5,567.9 254.5,559.9 258.5,562.3 262.5,562.3 266.5,561.4 270.5,563.3 274.5,564.2 278.5,560.4 282.5,557.6 286.5,561.4 290.5,565.1 294.5,567.4 298.5,568.9 302.5,568.5 306.5,568.5 310.5,571.1 314.5,573.6 318.5,571.1 322.5,568.9 326.5,567.4 330.5,565.5 334.5,560.4 338.5,557.3 342.5,556.7 346.5,552.9 350.5,553.5 354.5,552.4 358.5,556.7 362.5,556.7 366.5,558.0 370.5,558.0 374.5,567.0 378.5,571.1 382.5,576.4 386.5,576.4 390.5,576.4 394.5,575.4 398.5,574.5 402.5,573.0 406.5,578.3 410.5,581.1 414.5,581.6 418.5,582.4 422.5,588.0 426.5,590.4 430.5,592.3 434.5,594.2 438.5,592.9 442.5,592.9 446.5,591.0 450.5,591.4 454.5,593.3 458.5,592.3 462.5,593.3 466.5,595.1 470.5,597.0 474.5,601.1 478.5,599.3 482.5,598.9 486.5,597.4 490.5,597.4 494.5,585.8 498.5,587.6 502.5,591.8 506.5,593.6 510.5,592.9 514.5,588.6 518.5,583.9 522.5,580.5 526.5,578.3 530.5,573.6 534.5,573.0 538.5,572.3 542.5,571.1 546.5,578.3 550.5,587.6 554.5,596.1 558.5,594.2 562.5,596.1 566.5,602.6 570.5,612.9 574.5,619.5 578.5,623.3 582.5,627.0 586.5,632.6 590.5,624.2 594.5,612.9 598.5,612.0 602.5,602.6 606.5,596.1 610.5,591.4 614.5,591.0 618.5,582.0 622.5,575.4 626.5,574.5 630.5,575.4 634.5,577.9 638.5,574.5 642.5,572.3 646.5,567.0 650.5,562.9 654.5,562.3 658.5,562.3 662.5,557.3 666.5,546.8 670.5,540.8 674.5,539.3 678.5,544.1 682.5,546.8 686.5,552.9 690.5,555.8 694.5,561.8 698.5,566.1 702.5,575.4 706.5,585.8 710.5,589.5 714.5,594.8 718.5,592.3 722.5,588.0 726.5,588.0 730.5,589.1 734.5,580.1 738.5,577.3 742.5,574.9 746.5,572.3 750.5,568.9 754.5,568.5 758.5,568.5 762.5,569.8 766.5,563.3 770.5,572.3 774.5,580.1 778.5,586.7 782.5,595.1 786.5,606.0 790.5,605.4 794.5,602.6 798.5,595.1 802.5,591.4 806.5,588.0 810.5,584.8 814.5,582.4 818.5,581.1 822.5,583.9 826.5,588.6 830.5,586.7 834.5,584.3 838.5,582.0 842.5,575.4 846.5,568.9 850.5,564.2 854.5,563.6 858.5,555.4 862.5,548.6 866.5,550.5 870.5,553.9 874.5,558.6 878.5,552.9 882.5,551.1 886.5,559.5 890.5,567.0 894.5,567.9 898.5,563.6 902.5,559.1 906.5,558.6 910.5,563.3 914.5,566.1 918.5,568.5 922.5,569.3 926.5,576.4 930.5,584.8 934.5,587.6 938.5,594.2 942.5,600.8 946.5,605.4 950.5,604.5 954.5,604.5 958.5,607.3 962.5,613.9 966.5,612.4 970.5,610.1 974.5,607.9 978.5,605.4 982.5,597.0 986.5,583.9 990.5,578.3 994.5,574.5 998.5,572.6 1002.5,569.8 1006.5,564.8 1010.5,562.3 1014.5,562.3 1018.5,562.3 1022.5,560.4 1026.5,562.3 1030.5,555.8 1034.5,552.4 1038.5,552.4 1042.5,552.4 1046.5,552.9 1050.5,549.8 1054.5,554.8 1058.5,561.4 1062.5,559.1 1066.5,555.8 1070.5,548.3 1074.5,537.9 1078.5,531.0 1082.5,530.4 1086.5,531.4 1090.5,534.8 1094.5,540.8 1098.5,546.4 1102.5,543.8 1106.5,545.6 1110.5,552.9 1114.5,553.8 1118.5,542.9 1122.5,536.5 1126.5,532.0 1130.5,534.7 1134.5,538.7 1138.5,541.6 1142.5,550.2 1146.5,556.2 1150.5,555.6 1154.5,555.6 1158.5,557.5 1162.5,556.5 1166.5,555.6 1170.5,550.2 1174.5,546.5 1178.5,545.6 1182.5,547.8 1186.5,551.1 1190.5,555.1 1194.5,563.8 1198.5,568.4 1202.5,573.8 1206.5,573.8 1210.5,573.8 1214.5,580.2 1218.5,586.5 1222.5,582.9 1226.5,580.2 1230.5,573.8 1234.5,569.3" fill="none" stroke="#a8a8a8" stroke-width="1"/>
<rect x="14" y="567" width="1" height="2" fill="#00ff00"/>
<rect x="18" y="566" width="1" height="3" fill="#00ff00"/>
<rect x="22" y="567" width="1" height="2" fill="#ff0000"/>
<rect x="26" y="555" width="1" height="14" fill="#00ff00"/>
<rect x="30" y="551" width="1" height="18" fill="#00ff00"/>
<rect x="34" y="551" width="1" height="18" fill="#00ff00"/>
<rect x="38" y="547" width="1" height="22" fill="#00ff00"/>
<rect x="42" y="564" width="1" height="5" fill="#ff0000"/>
<rect x="46" y="568" width="1" height="1" fill="#ff0000"/>
<rect x="50" y="568" width="1" height="10" fill="#ff0000"/>
<rect x="54" y="568" width="1" height="11" fill="#00ff00"/>
<rect x="58" y="568" width="1" height="10" fill="#00ff00"/>
<rect x="62" y="568" width="1" height="13" fill="#ff0000"/>
<rect x="66" y="568" width="1" height="10" fill="#00ff00"/>
<rect x="70" y="568" width="1" height="8" fill="#00ff00"/>
<rect x="74" y="568" width="1" height="5" fill="#00ff00"/>
<rect x="78" y="568" width="1" height="7" fill="#ff0000"/>
<rect x="82" y="568" width="1" height="7" fill="#00ff00"/>
<rect x="86" y="568" width="1" height="3" fill="#00ff00"/>
<rect x="90" y="568" width="1" height="1" fill="#00ff00"/>
<rect x="94" y="567" width="1" height="2" fill="#00ff00"/>
<rect x="98" y="566" width="1" height="3" fill="#00ff00"/>
<rect x="102" y="560" width="1" height="9" fill="#00ff00"/>
<rect x="106" y="558" width="1" height="11" fill="#00ff00"/>
<rect x="110" y="557" width="1" height="12" fill="#00ff00"/>
<rect x="114" y="546" width="1" height="23" fill="#00ff00"/>
<rect x="118" y="540" width="1" height="29" fill="#00ff00"/>
<rect x="122" y="537" width="1" height="32" fill="#00ff00"/>
<rect x="126" y="538" width="1" height="31" fill="#ff0000"/>
<rect x="130" y="543" width="1" height="26" fill="#ff0000"/>
<rect x="134" y="549" width="1" height="20" fill="#ff0000"/>
<rect x="138" y="552" width="1" height="17" fill="#ff0000"/>
<rect x="142" y="554" width="1" height="15" fill="#ff0000"/>
<rect x="146" y="556" width="1" height="13" fill="#ff0000"/>
<rect x="150" y="560" width="1" height="9" fill="#ff0000"/>
<rect x="154" y="560" width="1" height="9" fill="#ff0000"/>
<rect x="158" y="559" width="1" height="10" fill="#00ff00"/>
<rect x="162" y="551" width="1" height="18" fill="#00ff00"/>
<rect x="166" y="554" width="1" height="15" fill="#ff0000"/>
<rect x="170" y="556" width="1" height="13" fill="#ff0000"/>
<rect x="174" y="562" width="1" height="7" fill="#ff0000"/>
<rect x="178" y="563" width="1" height="6" fill="#ff0000"/>
<rect x="182" y="567" width="1" height="2" fill="#ff0000"/>
<rect x="186" y="568" width="1" height="3" fill="#ff0000"/>
<rect x="190" y="568" width="1" height="11" fill="#ff0000"/>
<rect x="194" y="568" width="1" height="13" fill="#ff0000"/>
<rect x="198" y="568" width="1" height="14" fill="#ff0000"/>
<rect x="202" y="568" width="1" height="16" fill="#ff0000"/>
<rect x="206" y="568" width="1" height="14" fill="#00ff00"/>
<rect x="210" y="568" width="1" height="3" fill="#00ff00"/>
<rect x="214" y="567" width="1" height="2" fill="#00ff00"/>
<rect x="218" y="566" width="1" height="3" fill="#00ff00"/>
<rect x="222" y="566" width="1" height="3" fill="#00ff00"/>
<rect x="226" y="568" width="1" height="1" fill="#ff0000"/>
<rect x="230" y="564" width="1" height="5" fill="#00ff00"/>
<rect x="234" y="562" width="1" height="7" fill="#00ff00"/>
<rect x="238" y="565" width="1" height="4" fill="#ff0000"/>
<rect x="242" y="568" width="1" height="1" fill="#ff0000"/>
<rect x="246" y="568" width="1" height="1" fill="#ff0000"/>
<rect x="250" y="568" width="1" height="1" fill="#00ff00"/>
<rect x="254" y="560" width="1" height="9" fill="#00ff00"/>
<rect x="258" y="562" width="1" height="7" fill="#ff0000"/>
<rect x="262" y="562" width="1" height="7" fill="#00ff00"/>
<rect x="266" y="561" width="1" height="8" fill="#00ff00"/>
<rect x="270" y="563" width="1" height="6" fill="#ff0000"/>
<rect x="274" y="564" width="1" height="5" fill="#ff0000"/>
<rect x="278" y="560" width="1" height="9" fill="#00ff00"/>
<rect x="282" y="558" width="1" height="11" fill="#00ff00"/>
<rect x="286" y="561" width="1" height="8" fill="#ff0000"/>
<rect x="290" y="565" width="1" height="4" fill="#ff0000"/>
<rect x="294" y="567" width="1" height="2" fill="#ff0000"/>
<rect x="298" y="568" width="1" height="1" fill="#ff0000"/>
<rect x="302" y="568" width="1" height="1" fill="#ff0000"/>
<rect x="306" y="568" width="1" height="1" fill="#00ff00"/>
<rect x="310" y="568" width="1" height="3" fill="#ff0000"/>
<rect x="314" y="568" width="1" height="6" fill="#ff0000"/>
<rect x="318" y="568" width="1" height="3" fill="#00ff00"/>
<rect x="322" y="568" width="1" height="1" fill="#00ff00"/>
<rect x="326" y="567" width="1" height="2" fill="#00ff00"/>
<rect x="330" y="566" width="1" height="3" fill="#00ff00"/>
<rect x="334" y="560" width="1" height="9" fill="#00ff00"/>
<rect x="338" y="557" width="1" height="12" fill="#00ff00"/>
<rect x="342" y="557" width="1" height="12" fill="#00ff00"/>
<rect x="346" y="553" width="1" height="16" fill="#00ff00"/>
<rect x="350" y="554" width="1" height="15" fill="#ff0000"/>
<rect x="354" y="552" width="1" height="17" fill="#00ff00"/>
<rect x="358" y="557" width="1" height="12" fill="#ff0000"/>
<rect x="362" y="557" width="1" height="12" fill="#ff0000"/>
<rect x="366" y="558" width="1" height="11" fill="#ff0000"/>
<rect x="370" y="558" width="1" height="11" fill="#00ff00"/>
<rect x="374" y="567" width="1" height="2" fill="#ff0000"/>
<rect x="378" y="568" width="1" height="3" fill="#ff0000"/>
<rect x="382" y="568" width="1" height="8" fill="#ff0000"/>
<rect x="386" y="568" width="1" height="8" fill="#ff0000"/>
<rect x="390" y="568" width="1" height="8" fill="#ff0000"/>
<rect x="394" y="568" width="1" height="7" fill="#00ff00"/>
<rect x="398" y="568" width="1" height="7" fill="#00ff00"/>
<rect x="402" y="568" width="1" height="5" fill="#00ff00"/>
<rect x="406" y="568" width="1" height="10" fill="#ff0000"/>
<rect x="410" y="568" width="1" height="13" fill="#ff0000"/>
<rect x="414" y="568" width="1" height="14" fill="#ff0000"/>
<rect x="418" y="568" width="1" height="14" fill="#ff0000"/>
<rect x="422" y="568" width="1" height="20" fill="#ff0000"/>
<rect x="426" y="568" width="1" height="22" fill="#ff0000"/>
<rect x="430" y="568" width="1" height="24" fill="#ff0000"/>
<rect x="434" y="568" width="1" height="26" fill="#ff0000"/>
<rect x="438" y="568" width="1" height="25" fill="#00ff00"/>
<rect x="442" y="568" width="1" height="25" fill="#00ff00"/>
<rect x="446" y="568" width="1" height="23" fill="#00ff00"/>
<rect x="450" y="568" width="1" height="23" fill="#ff0000"/>
<rect x="454" y="568" width="1" height="25" fill="#ff0000"/>
<rect x="458" y="568" width="1" height="24" fill="#00ff00"/>
<rect x="462" y="568" width="1" height="25" fill="#ff0000"/>
<rect x="466" y="568" width="1" height="27" fill="#ff0000"/>
<rect x="470" y="568" width="1" height="29" fill="#ff0000"/>
<rect x="474" y="568" width="1" height="33" fill="#ff0000"/>
<rect x="478" y="568" width="1" height="31" fill="#00ff00"/>
<rect x="482" y="568" width="1" height="31" fill="#00ff00"/>
<rect x="486" y="568" width="1" height="29" fill="#00ff00"/>
<rect x="490" y="568" width="1" height="29" fill="#ff0000"/>
<rect x="494" y="568" width="1" height="18" fill="#00ff00"/>
<rect x="498" y="568" width="1" height="20" fill="#ff0000"/>
<rect x="502" y="568" width="1" height="24" fill="#ff0000"/>
<rect x="506" y="568" width="1" height="26" fill="#ff0000"/>
<rect x="510" y="568" width="1" height="25" fill="#00ff00"/>
<rect x="514" y="568" width="1" height="21" fill="#00ff00"/>
<rect x="518" y="568" width="1" height="16" fill="#00ff00"/>
<rect x="522" y="568" width="1" height="13" fill="#00ff00"/>
<rect x="526" y="568" width="1" height="10" fill="#00ff00"/>
<rect x="530" y="568" width="1" height="6" fill="#00ff00"/>
<rect x="534" y="568" width="1" height="5" fill="#00ff00"/>
<rect x="538" y="568" width="1" height="4" fill="#00ff00"/>
<rect x="542" y="568" width="1" height="3" fill="#00ff00"/>
<rect x="546" y="568" width="1" height="10" fill="#ff0000"/>
<rect x="550" y="568" width="1" height="20" fill="#ff0000"/>
<rect x="554" y="568" width="1" height="28" fill="#ff0000"/>
<rect x="558" y="568" width="1" height="26" fill="#00ff00"/>
<rect x="562" y="568" width="1" height="28" fill="#ff0000"/>
<rect x="566" y="568" width="1" height="35" fill="#ff0000"/>
<rect x="570" y="568" width="1" height="45" fill="#ff0000"/>
<rect x="574" y="568" width="1" height="52" fill="#ff0000"/>
<rect x="578" y="568" width="1" height="55" fill="#ff0000"/>
<rect x="582" y="568" width="1" height="59" fill="#ff0000"/>
<rect x="586" y="568" width="1" height="65" fill="#ff0000"/>
<rect x="590" y="568" width="1" height="56" fill="#00ff00"/>
<rect x="594" y="568" width="1" height="45" fill="#00ff00"/>
<rect x="598" y="568" width="1" height="44" fill="#ff0000"/>
<rect x="602" y="568" width="1" height="35" fill="#00ff00"/>
<rect x="606" y="568" width="1" height="28" fill="#00ff00"/>
<rect x="610" y="568" width="1" height="23" fill="#00ff00"/>
<rect x="614" y="568" width="1" height="23" fill="#00ff00"/>
<rect x="618" y="568" width="1" height="14" fill="#00ff00"/>
<rect x="622" y="568" width="1" height="7" fill="#00ff00"/>
<rect x="626" y="568" width="1" height="7" fill="#00ff00"/>
<rect x="630" y="568" width="1" height="7" fill="#ff0000"/>
<rect x="634" y="568" width="1" height="10" fill="#ff0000"/>
<rect x="638" y="568" width="1" height="7" fill="#00ff00"/>
<rect x="642" y="568" width="1" height="4" fill="#00ff00"/>
<rect x="646" y="567" width="1" height="2" fill="#00ff00"/>
<rect x="650" y="563" width="1" height="6" fill="#00ff00"/>
<rect x="654" y="562" width="1" height="7" fill="#ff0000"/>
<rect x="658" y="562" width="1" height="7" fill="#ff0000"/>
<rect x="662" y="557" width="1" height="12" fill="#00ff00"/>
<rect x="666" y="547" width="1" height="22" fill="#00ff00"/>
<rect x="670" y="541" width="1" height="28" fill="#00ff00"/>
<rect x="674" y="539" width="1" height="30" fill="#00ff00"/>
<rect x="678" y="544" width="1" height="25" fill="#ff0000"/>
<rect x="682" y="547" width="1" height="22" fill="#ff0000"/>
<rect x="686" y="553" width="1" height="16" fill="#ff0000"/>
<rect x="690" y="556" width="1" height="13" fill="#ff0000"/>
<rect x="694" y="562" width="1" height="7" fill="#ff0000"/>
<rect x="698" y="566" width="1" height="3" fill="#ff0000"/>
<rect x="702" y="568" width="1" height="7" fill="#ff0000"/>
<rect x="706" y="568" width="1" height="18" fill="#ff0000"/>
<rect x="710" y="568" width="1" height="22" fill="#ff0000"/>
<rect x="714" y="568" width="1" height="27" fill="#ff0000"/>
<rect x="718" y="568" width="1" height="24" fill="#00ff00"/>
<rect x="722" y="568" width="1" height="20" fill="#00ff00"/>
<rect x="726" y="568" width="1" height="20" fill="#00ff00"/>
<rect x="730" y="568" width="1" height="21" fill="#ff0000"/>
<rect x="734" y="568" width="1" height="12" fill="#00ff00"/>
<rect x="738" y="568" width="1" height="9" fill="#00ff00"/>
<rect x="742" y="568" width="1" height="7" fill="#00ff00"/>
<rect x="746" y="568" width="1" height="4" fill="#00ff00"/>
<rect x="750" y="568" width="1" height="1" fill="#00ff00"/>
<rect x="754" y="568" width="1" height="1" fill="#00ff00"/>
<rect x="758" y="568" width="1" height="1" fill="#ff0000"/>
<rect x="762" y="568" width="1" height="2" fill="#ff0000"/>
<rect x="766" y="563" width="1" height="6" fill="#00ff00"/>
<rect x="770" y="568" width="1" height="4" fill="#ff0000"/>
<rect x="774" y="568" width="1" height="12" fill="#ff0000"/>
<rect x="778" y="568" width="1" height="19" fill="#ff0000"/>
<rect x="782" y="568" width="1" height="27" fill="#ff0000"/>
<rect x="786" y="568" width="1" height="38" fill="#ff0000"/>
<rect x="790" y="568" width="1" height="37" fill="#ff0000"/>
<rect x="794" y="568" width="1" height="35" fill="#00ff00"/>
<rect x="798" y="568" width="1" height="27" fill="#00ff00"/>
<rect x="802" y="568" width="1" height="23" fill="#00ff00"/>
<rect x="806" y="568" width="1" height="20" fill="#00ff00"/>
<rect x="810" y="568" width="1" height="17" fill="#00ff00"/>
<rect x="814" y="568" width="1" height="14" fill="#00ff00"/>
<rect x="818" y="568" width="1" height="13" fill="#00ff00"/>
<rect x="822" y="568" width="1" height="16" fill="#ff0000"/>
<rect x="826" y="568" width="1" height="21" fill="#ff0000"/>
<rect x="830" y="568" width="1" height="19" fill="#00ff00"/>
<rect x="834" y="568" width="1" height="16" fill="#00ff00"/>
<rect x="838" y="568" width="1" height="14" fill="#00ff00"/>
<rect x="842" y="568" width="1" height="7" fill="#00ff00"/>
<rect x="846" y="568" width="1" height="1" fill="#00ff00"/>
<rect x="850" y="564" width="1" height="5" fill="#00ff00"/>
<rect x="854" y="564" width="1" height="5" fill="#ff0000"/>
<rect x="858" y="555" width="1" height="14" fill="#00ff00"/>
<rect x="862" y="549" width="1" height="20" fill="#00ff00"/>
<rect x="866" y="551" width="1" height="18" fill="#ff0000"/>
<rect x="870" y="554" width="1" height="15" fill="#ff0000"/>
<rect x="874" y="559" width="1" height="10" fill="#ff0000"/>
<rect x="878" y="553" width="1" height="16" fill="#00ff00"/>
<rect x="882" y="551" width="1" height="18" fill="#00ff00"/>
<rect x="886" y="560" width="1" height="9" fill="#ff0000"/>
<rect x="890" y="567" width="1" height="2" fill="#ff0000"/>
<rect x="894" y="568" width="1" height="1" fill="#ff0000"/>
<rect x="898" y="564" width="1" height="5" fill="#00ff00"/>
<rect x="902" y="559" width="1" height="10" fill="#00ff00"/>
<rect x="906" y="559" width="1" height="10" fill="#00ff00"/>
<rect x="910" y="563" width="1" height="6" fill="#ff0000"/>
<rect x="914" y="566" width="1" height="3" fill="#ff0000"/>
<rect x="918" y="568" width="1" height="1" fill="#ff0000"/>
<rect x="922" y="568" width="1" height="1" fill="#ff0000"/>
<rect x="926" y="568" width="1" height="8" fill="#ff0000"/>
<rect x="930" y="568" width="1" height="17" fill="#ff0000"/>
<rect x="934" y="568" width="1" height="20" fill="#ff0000"/>
<rect x="938" y="568" width="1" height="26" fill="#ff0000"/>
<rect x="942" y="568" width="1" height="33" fill="#ff0000"/>
<rect x="946" y="568" width="1" height="37" fill="#ff0000"/>
<rect x="950" y="568" width="1" height="37" fill="#00ff00"/>
<rect x="954" y="568" width="1" height="37" fill="#00ff00"/>
<rect x="958" y="568" width="1" height="39" fill="#ff0000"/>
<rect x="962" y="568" width="1" height="46" fill="#ff0000"/>
<rect x="966" y="568" width="1" height="44" fill="#00ff00"/>
<rect x="970" y="568" width="1" height="42" fill="#00ff00"/>
<rect x="974" y="568" width="1" height="40" fill="#00ff00"/>
<rect x="978" y="568" width="1" height="37" fill="#00ff00"/>
<rect x="982" y="568" width="1" height="29" fill="#00ff00"/>
<rect x="986" y="568" width="1" height="16" fill="#00ff00"/>
<rect x="990" y="568" width="1" height="10" fill="#00ff00"/>
<rect x="994" y="568" width="1" height="7" fill="#00ff00"/>
<rect x="998" y="568" width="1" height="5" fill="#00ff00"/>
<rect x="1002" y="568" width="1" height="2" fill="#00ff00"/>
<rect x="1006" y="565" width="1" height="4" fill="#00ff00"/>
<rect x="1010" y="562" width="1" height="7" fill="#00ff00"/>
<rect x="1014" y="562" width="1" height="7" fill="#00ff00"/>
<rect x="1018" y="562" width="1" height="7" fill="#ff0000"/>
<rect x="1022" y="560" width="1" height="9" fill="#00ff00"/>
<rect x="1026" y="562" width="1" height="7" fill="#ff0000"/>
<rect x="1030" y="556" width="1" height="13" fill="#00ff00"/>
<rect x="1034" y="552" width="1" height="17" fill="#00ff00"/>
<rect x="1038" y="552" width="1" height="17" fill="#00ff00"/>
<rect x="1042" y="552" width="1" height="17" fill="#00ff00"/>
<rect x="1046" y="553" width="1" height="16" fill="#ff0000"/>
<rect x="1050" y="550" width="1" height="19" fill="#00ff00"/>
<rect x="1054" y="555" width="1" height="14" fill="#ff0000"/>
<rect x="1058" y="561" width="1" height="8" fill="#ff0000"/>
<rect x="1062" y="559" width="1" height="10" fill="#00ff00"/>
<rect x="1066" y="556" width="1" height="13" fill="#00ff00"/>
<rect x="1070" y="548" width="1" height="21" fill="#00ff00"/>
<rect x="1074" y="538" width="1" height="31" fill="#00ff00"/>
<rect x="1078" y="531" width="1" height="38" fill="#00ff00"/>
<rect x="1082" y="530" width="1" height="39" fill="#ff0000"/>
<rect x="1086" y="531" width="1" height="38" fill="#ff0000"/>
<rect x="1090" y="535" width="1" height="34" fill="#ff0000"/>
<rect x="1094" y="541" width="1" height="28" fill="#ff0000"/>
<rect x="1098" y="546" width="1" height="23" fill="#ff0000"/>
<rect x="1102" y="544" width="1" height="25" fill="#00ff00"/>
<rect x="1106" y="546" width="1" height="23" fill="#ff0000"/>
<rect x="1110" y="553" width="1" height="16" fill="#ff0000"/>
<rect x="1114" y="554" width="1" height="15" fill="#ff0000"/>
<rect x="1118" y="543" width="1" height="26" fill="#00ff00"/>
<rect x="1122" y="537" width="1" height="32" fill="#00ff00"/>
<rect x="1126" y="532" width="1" height="37" fill="#00ff00"/>
<rect x="1130" y="535" width="1" height="34" fill="#ff0000"/>
<rect x="1134" y="539" width="1" height="30" fill="#ff0000"/>
<rect x="1138" y="542" width="1" height="27" fill="#ff0000"/>
<rect x="1142" y="550" width="1" height="19" fill="#ff0000"/>
<rect x="1146" y="556" width="1" height="13" fill="#ff0000"/>
<rect x="1150" y="556" width="1" height="13" fill="#00ff00"/>
<rect x="1154" y="556" width="1" height="13" fill="#00ff00"/>
<rect x="1158" y="557" width="1" height="12" fill="#ff0000"/>
<rect x="1162" y="557" width="1" height="12" fill="#00ff00"/>
<rect x="1166" y="556" width="1" height="13" fill="#00ff00"/>
<rect x="1170" y="550" width="1" height="19" fill="#00ff00"/>
<rect x="1174" y="547" width="1" height="22" fill="#00ff00"/>
<rect x="1178" y="546" width="1" height="23" fill="#00ff00"/>
<rect x="1182" y="548" width="1" height="21" fill="#ff0000"/>
<rect x="1186" y="551" width="1" height="18" fill="#ff0000"/>
<rect x="1190" y="555" width="1" height="14" fill="#ff0000"/>
<rect x="1194" y="564" width="1" height="5" fill="#ff0000"/>
<rect x="1198" y="568" width="1" height="1" fill="#ff0000"/>
<rect x="1202" y="568" width="1" height="6" fill="#ff0000"/>
<rect x="1206" y="568" width="1" height="6" fill="#00ff00"/>
<rect x="1210" y="568" width="1" height="6" fill="#00ff00"/>
<rect x="1214" y="568" width="1" height="12" fill="#ff0000"/>
<rect x="1218" y="568" width="1" height="19" fill="#ff0000"/>
<rect x="1222" y="568" width="1" height="15" fill="#00ff00"/>
<rect x="1226" y="568" width="1" height="12" fill="#00ff00"/>
<rect x="1230" y="568" width="1" height="6" fill="#00ff00"/>
<rect x="122" y="532" width="2" height="2" fill="#ff0000"/>
<rect x="123" y="533" width="2" height="2" fill="#ff0000"/>
<rect x="124" y="533" width="2" height="2" fill="#ff0000"/>
<rect x="125" y="533" width="2" height="2" fill="#ff0000"/>
<rect x="126" y="534" width="2" height="2" fill="#ff0000"/>
<rect x="127" y="534" width="2" height="2" fill="#ff0000"/>
<rect x="128" y="534" width="2" height="2" fill="#ff0000"/>
<rect x="129" y="535" width="2" height="2" fill="#ff0000"/>
<rect x="130" y="535" width="2" height="2" fill="#ff0000"/>
<rect x="131" y="535" width="2" height="2" fill="#ff0000"/>
<rect x="132" y="536" width="2" height="2" fill="#ff0000"/>
<rect x="133" y="536" width="2" height="2" fill="#ff0000"/>
<rect x="134" y="536" width="2" height="2" fill="#ff0000"/>
<rect x="135" y="536" width="2" height="2" fill="#ff0000"/>
<rect x="136" y="537" width="2" height="2" fill="#ff0000"/>
<rect x="137" y="537" width="2" height="2" fill="#ff0000"/>
<rect x="138" y="537" width="2" height="2" fill="#ff0000"/>
<rect x="139" y="538" width="2" height="2" fill="#ff0000"/>
<rect x="140" y="538" width="2" height="2" fill="#ff0000"/>
<rect x="141" y="538" width="2" height="2" fill="#ff0000"/>
<rect x="142" y="539" width="2" height="2" fill="#ff0000"/>
<rect x="143" y="539" width="2" height="2" fill="#ff0000"/>
<rect x="144" y="539" width="2" height="2" fill="#ff0000"/>
<rect x="145" y="539" width="2" height="2" fill="#ff0000"/>
<rect x="146" y="540" width="2" height="2" fill="#ff0000"/>
<rect x="147" y="540" width="2" height="2" fill="#ff0000"/>
<rect x="148" y="540" width="2" height="2" fill="#ff0000"/>
<rect x="149" y="541" width="2" height="2" fill="#ff0000"/>
<rect x="150" y="541" width="2" height="2" fill="#ff0000"/>
<rect x="151" y="541" width="2" height="2" fill="#ff0000"/>
<rect x="152" y="542" width="2" height="2" fill="#ff0000"/>
<rect x="153" y="542" width="2" height="2" fill="#ff0000"/>
<rect x="154" y="542" width="2" height="2" fill="#ff0000"/>
<rect x="155" y="543" width="2" height="2" fill="#ff0000"/>
<rect x="156" y="543" width="2" height="2" fill="#ff0000"/>
<rect x="157" y="543" width="2" height="2" fill="#ff0000"/>
<rect x="158" y="543" width="2" height="2" fill="#ff0000"/>
<rect x="159" y="544" width="2" height="2" fill="#ff0000"/>
<rect x="160" y="544" width="2" height="2" fill="#ff0000"/>
<rect x="161" y="544" width="2" height="2" fill="#ff0000"/>
<rect x="162" y="545" width="2" height="2" fill="#ff0000"/>
<rect x="163" y="545" width="2" height="2" fill="#ff0000"/>
<rect x="164" y="545" width="2" height="2" fill="#ff0000"/>
<rect x="165" y="546" width="2" height="2" fill="#ff0000"/>
<rect x="166" y="546" width="2" height="2" fill="#ff0000"/>
<rect x="167" y="546" width="2" height="2" fill="#ff0000"/>
<rect x="168" y="546" width="2" height="2" fill="#ff0000"/>
<rect x="169" y="547" width="2" height="2" fill="#ff0000"/>
<rect x="170" y="547" width="2" height="2" fill="#ff0000"/>
<rect x="171" y="547" width="2" height="2" fill="#ff0000"/>
<rect x="172" y="548" width="2" height="2" fill="#ff0000"/>
<rect x="173" y="548" width="2" height="2" fill="#ff0000"/>
<rect x="174" y="548" width="2" height="2" fill="#ff0000"/>
<rect x="175" y="549" width="2" height="2" fill="#ff0000"/>
<rect x="176" y="549" width="2" height="2" fill="#ff0000"/>
<rect x="177" y="549" width="2" height="2" fill="#ff0000"/>
<rect x="178" y="550" width="2" height="2" fill="#ff0000"/>
<rect x="1126" y="526" width="2" height="2" fill="#ff0000"/>
<rect x="1127" y="526" width="2" height="2" fill="#ff0000"/>
<rect x="1128" y="526" width="2" height="2" fill="#ff0000"/>
<rect x="1129" y="527" width="2" height="2" fill="#ff0000"/>
<rect x="1130" y="527" width="2" height="2" fill="#ff0000"/>
<rect x="1131" y="527" width="2" height="2" fill="#ff0000"/>
<rect x="1132" y="527" width="2" height="2" fill="#ff0000"/>
<rect x="1133" y="528" width="2" height="2" fill="#ff0000"/>
<rect x="1134" y="528" width="2" height="2" fill="#ff0000"/>
<rect x="1135" y="528" width="2" height="2" fill="#ff0000"/>
<rect x="1136" y="528" width="2" height="2" fill="#ff0000"/>
<rect x="1137" y="528" width="2" height="2" fill="#ff0000"/>
<rect x="1138" y="529" width="2" height="2" fill="#ff0000"/>
<rect x="1139" y="529" width="2" height="2" fill="#ff0000"/>
<rect x="1140" y="529" width="2" height="2" fill="#ff0000"/>
<rect x="1141" y="529" width="2" height="2" fill="#ff0000"/>
<rect x="1142" y="529" width="2" height="2" fill="#ff0000"/>
<rect x="1143" y="530" width="2" height="2" fill="#ff0000"/>
<rect x="1144" y="530" width="2" height="2" fill="#ff0000"/>
<rect x="1145" y="530" width="2" height="2" fill="#ff0000"/>
<rect x="1146" y="530" width="2" height="2" fill="#ff0000"/>
<rect x="1147" y="531" width="2" height="2" fill="#ff0000"/>
<rect x="1148" y="531" width="2" height="2" fill="#ff0000"/>
<rect x="1149" y="531" width="2" height="2" fill="#ff0000"/>
<rect x="1150" y="531" width="2" height="2" fill="#ff0000"/>
<rect x="1151" y="531" width="2" height="2" fill="#ff0000"/>
<rect x="1152" y="532" width="2" height="2" fill="#ff0000"/>
<rect x="1153" y="532" width="2" height="2" fill="#ff0000"/>
<rect x="1154" y="532" width="2" height="2" fill="#ff0000"/>
<rect x="1155" y="532" width="2" height="2" fill="#ff0000"/>
<rect x="1156" y="532" width="2" height="2" fill="#ff0000"/>
<rect x="1157" y="533" width="2" height="2" fill="#ff0000"/>
<rect x="1158" y="533" width="2" height="2" fill="#ff0000"/>
<rect x="1159" y="533" width="2" height="2" fill="#ff0000"/>
<rect x="1160" y="533" width="2" height="2" fill="#ff0000"/>
<rect x="1161" y="534" width="2" height="2" fill="#ff0000"/>
<rect x="1162" y="534" width="2" height="2" fill="#ff0000"/>
<rect x="1163" y="534" width="2" height="2" fill="#ff0000"/>
<rect x="1164" y="534" width="2" height="2" fill="#ff0000"/>
<rect x="1165" y="534" width="2" height="2" fill="#ff0000"/>
<rect x="1166" y="535" width="2" height="2" fill="#ff0000"/>
<rect x="1167" y="535" width="2" height="2" fill="#ff0000"/>
<rect x="1168" y="535" width="2" height="2" fill="#ff0000"/>
<rect x="1169" y="535" width="2" height="2" fill="#ff0000"/>
<rect x="1170" y="535" width="2" height="2" fill="#ff0000"/>
<rect x="1171" y="536" width="2" height="2" fill="#ff0000"/>
<rect x="1172" y="536" width="2" height="2" fill="#ff0000"/>
<rect x="1173" y="536" width="2" height="2" fill="#ff0000"/>
<rect x="1174" y="536" width="2" height="2" fill="#ff0000"/>
<rect x="1175" y="537" width="2" height="2" fill="#ff0000"/>
<rect x="1176" y="537" width="2" height="2" fill="#ff0000"/>
<rect x="1177" y="537" width="2" height="2" fill="#ff0000"/>
<rect x="1178" y="537" width="2" height="2" fill="#ff0000"/>
<rect x="1179" y="537" width="2" height="2" fill="#ff0000"/>
<rect x="1180" y="538" width="2" height="2" fill="#ff0000"/>
<rect x="1181" y="538" width="2" height="2" fill="#ff0000"/>
<rect x="1182" y="538" width="2" height="2" fill="#ff0000"/>
<rect x="1183" y="538" width="2" height="2" fill="#ff0000"/>
<rect x="1184" y="538" width="2" height="2" fill="#ff0000"/>
<rect x="1185" y="539" width="2" height="2" fill="#ff0000"/>
<rect x="1186" y="539" width="2" height="2" fill="#ff0000"/>
<rect x="1187" y="539" width="2" height="2" fill="#ff0000"/>
<rect x="1188" y="539" width="2" height="2" fill="#ff0000"/>
<rect x="1189" y="540" width="2" height="2" fill="#ff0000"/>
<rect x="1190" y="540" width="2" height="2" fill="#ff0000"/>
<rect x="1191" y="540" width="2" height="2" fill="#ff0000"/>
<rect x="1192" y="540" width="2" height="2" fill="#ff0000"/>
<rect x="1193" y="540" width="2" height="2" fill="#ff0000"/>
<rect x="1194" y="541" width="2" height="2" fill="#ff0000"/>
<rect x="1195" y="541" width="2" height="2" fill="#ff0000"/>
<rect x="1196" y="541" width="2" height="2" fill="#ff0000"/>
<rect x="1197" y="541" width="2" height="2" fill="#ff0000"/>
<rect x="1198" y="542" width="2" height="2" fill="#ff0000"/>
<text x="18.5" y="537" font-size="9.4" fill="#000" stroke="#000" stroke-width="0.2">Trigger 1.0 0.0 1.0</text>
<rect x="13" y="523" width="1537" height="1" fill="#000"/>
<rect x="13" y="639" width="1537" height="1" fill="#000"/>
<rect x="13" y="523" width="1" height="117" fill="#000"/>
<rect x="1549" y="523" width="1" height="117" fill="#000"/>
<rect x="1550" y="568" width="2" height="1" fill="#000"/>
<rect x="1550" y="523" width="2" height="1" fill="#000"/>
<rect x="1550" y="639" width="2" height="1" fill="#000"/>
<text x="1553" y="534" font-size="9.4" fill="#000" stroke="#000" stroke-width="0.2">94.9</text>
<text x="1553" y="571" font-size="9.4" fill="#000" stroke="#000" stroke-width="0.2">0.00</text>
<text x="1552.5" y="636" font-size="9.4" fill="#000" stroke="#000" stroke-width="0.2">-151.8</text>
<rect x="14" y="640" width="1" height="3" fill="#000"/>
<text x="13" y="652" font-size="9.4" fill="#000" stroke="#000" stroke-width="0.2">9 Aug 2011</text>
<rect x="78" y="640" width="1" height="3" fill="#000"/>
<text x="77" y="652" font-size="9.4" fill="#000" stroke="#000" stroke-width="0.2">12 Aug 00:00</text>
<rect x="142" y="640" width="1" height="3" fill="#000"/>
<text x="141" y="652" font-size="9.4" fill="#000" stroke="#000" stroke-width="0.2">16 Aug 16:00</text>
<rect x="206" y="640" width="1" height="3" fill="#000"/>
<text x="205" y="652" font-size="9.4" fill="#000" stroke="#000" stroke-width="0.2">19 Aug 08:00</text>
<rect x="270" y="640" width="1" height="3" fill="#000"/>
<text x="269" y="652" font-size="9.4" fill="#000" stroke="#000" stroke-width="0.2">24 Aug 00:00</text>
<rect x="334" y="640" width="1" height="3" fill="#000"/>
<text x="333" y="652" font-size="9.4" fill="#000" stroke="#000" stroke-width="0.2">26 Aug 16:00</text>
<rect x="398" y="640" width="1" height="3" fill="#000"/>
<text x="397" y="652" font-size="9.4" fill="#000" stroke="#000" stroke-width="0.2">31 Aug 08:00</text>
<rect x="462" y="640" width="1" height="3" fill="#000"/>
<text x="461" y="652" font-size="9.4" fill="#000" stroke="#000" stroke-width="0.2">5 Sep 00:00</text>
<rect x="526" y="640" width="1" height="3" fill="#000"/>
<text x="525" y="652" font-size="9.4" fill="#000" stroke="#000" stroke-width="0.2">7 Sep 16:00</text>
<rect x="590" y="640" width="1" height="3" fill="#000"/>
<text x="589" y="652" font-size="9.4" fill="#000" stroke="#000" stroke-width="0.2">12 Sep 08:00</text>
<rect x="654" y="640" width="1" height="3" fill="#000"/>
<text x="653" y="652" font-size="9.4" fill="#000" stroke="#000" stroke-width="0.2">15 Sep 00:00</text>
<rect x="718" y="640" width="1" height="3" fill="#000"/>
<text x="717" y="652" font-size="9.4" fill="#000" stroke="#000" stroke-width="0.2">19 Sep 16:00</text>
<rect x="782" y="640" width="1" height="3" fill="#000"/>
<text x="781" y="652" font-size="9.4" fill="#000" stroke="#000" stroke-width="0.2">22 Sep 08:00</text>
<rect x="846" y="640" width="1" height="3" fill="#000"/>
<text x="845" y="652" font-size="9.4" fill="#000" stroke="#000" stroke-width="0.2">27 Sep 00:00</text>
<rect x="910" y="640" width="1" height="3" fill="#000"/>
<text x="909" y="652" font-size="9.4" fill="#000" stroke="#000" stroke-width="0.2">29 Sep 16:00</text>
<rect x="974" y="640" width="1" height="3" fill="#000"/>
<text x="973" y="652" font-size="9.4" fill="#000" stroke="#000" stroke-width="0.2">4 Oct 08:00</text>
<rect x="1038" y="640" width="1" height="3" fill="#000"/>
<text x="1037" y="652" font-size="9.4" fill="#000" stroke="#000" stroke-width="0.2">7 Oct 00:00</text>
<rect x="1102" y="640" width="1" height="3" fill="#000"/>
<text x="1101" y="652" font-size="9.4" fill="#000" stroke="#000" stroke-width="0.2">11 Oct 16:00</text>
<rect x="1166" y="640" width="1" height="3" fill="#000"/>
<text x="1165" y="652" font-size="9.4" fill="#000" stroke="#000" stroke-width="0.2">14 Oct 08:00</text>
<rect x="1230" y="640" width="1" height="3" fill="#000"/>
<text x="1229" y="652" font-size="9.4" fill="#000" stroke="#000" stroke-width="0.2">19 Oct 00:00</text>
</svg>
</body></html>
